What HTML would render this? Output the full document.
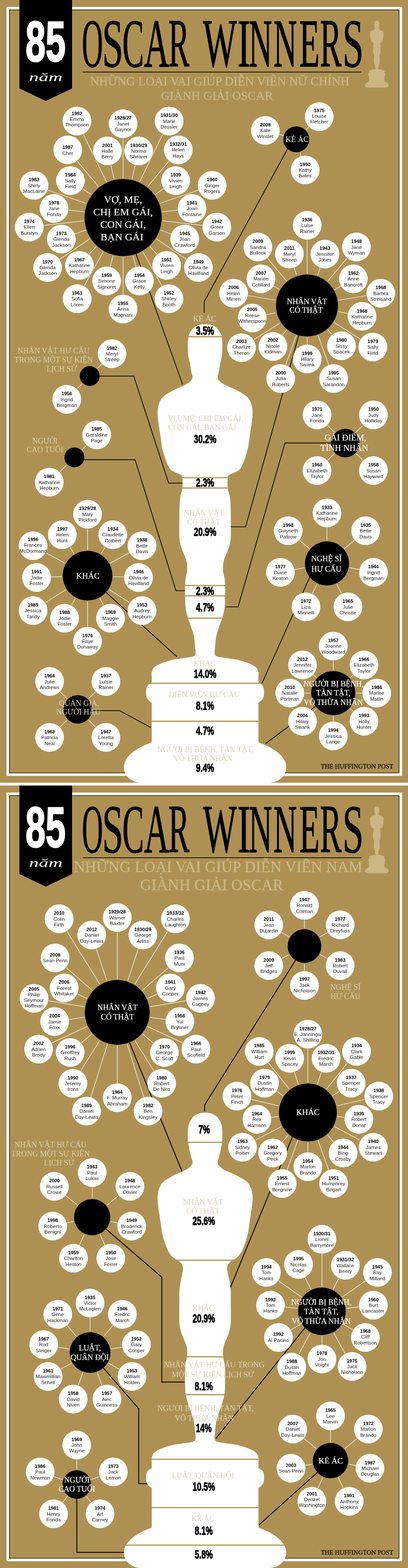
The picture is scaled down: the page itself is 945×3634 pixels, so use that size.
<!DOCTYPE html>
<html lang="vi"><head><meta charset="utf-8"><title>85 năm Oscar Winners</title>
<style>
html,body{margin:0;padding:0;background:#AE9152;}
body{width:945px;height:3634px;overflow:hidden;font-family:"Liberation Sans",sans-serif;}
svg{display:block;position:absolute;left:0;top:0;}
.nm{font-family:"Liberation Sans",sans-serif;font-size:11.6px;fill:#1a1a1a;text-anchor:middle;}
.yr{font-family:"Liberation Sans",sans-serif;font-size:11px;font-weight:bold;fill:#000;text-anchor:middle;}
.hl{font-family:"Liberation Serif",serif;fill:#fff;text-anchor:middle;stroke-width:0.2px;}
.tl{font-family:"Liberation Serif",serif;fill:#DDD3BA;text-anchor:middle;}
.pc{font-family:"Liberation Sans",sans-serif;font-weight:bold;fill:#000;text-anchor:middle;stroke:#000;stroke-linejoin:round;}
.sp{stroke:#fff;stroke-width:1.2;fill:none;}
.cn{stroke:#000;fill:none;stroke-linejoin:miter;}
.ft{font-family:"Liberation Serif",serif;font-size:14.5px;fill:#111;stroke:#111;stroke-width:0.35px;}
</style></head><body>
<svg width="945" height="3634" viewBox="0 0 945 3634">
<defs><path id="statue" d="M475.0,751.3 474.2,751.3 473.2,751.4 471.9,751.4 470.6,751.5 469.1,751.6 467.7,751.7 466.3,751.8 465.0,752.0 463.8,752.2 462.6,752.5 461.4,752.8 460.3,753.2 459.1,753.6 458.1,754.0 457.0,754.4 456.0,754.8 455.1,755.3 454.2,755.7 453.3,756.2 452.5,756.8 451.7,757.3 450.9,757.9 450.2,758.4 449.5,759.0 448.8,759.5 448.2,760.0 447.7,760.5 447.2,761.0 446.6,761.5 446.1,762.1 445.5,762.9 444.8,763.8 444.0,764.9 443.1,766.1 442.2,767.5 441.3,768.9 440.3,770.4 439.4,771.9 438.7,773.5 438.0,775.0 437.5,776.5 437.0,778.1 436.7,779.8 436.4,781.5 436.2,783.1 436.0,784.8 435.8,786.4 435.6,788.0 435.4,789.5 435.3,790.9 435.2,792.2 435.2,793.6 435.1,795.0 435.1,796.5 435.1,798.1 435.1,800.0 435.1,802.1 435.1,804.5 435.2,807.1 435.2,809.7 435.3,812.4 435.4,814.9 435.5,817.3 435.6,819.5 435.8,821.4 436.0,823.2 436.2,824.8 436.4,826.3 436.7,827.8 437.0,829.2 437.2,830.6 437.5,832.0 437.8,833.3 438.0,834.4 438.3,835.4 438.5,836.4 438.8,837.5 439.1,838.7 439.4,840.2 439.8,842.0 440.2,844.3 440.7,847.1 441.2,850.1 441.8,853.3 442.3,856.5 442.8,859.5 443.3,862.1 443.7,864.3 444.1,866.0 444.5,867.3 444.8,868.3 445.2,869.1 445.5,869.8 445.7,870.5 445.9,871.2 446.0,872.0 446.0,872.9 446.0,873.8 446.0,874.6 445.9,875.5 445.7,876.3 445.4,877.2 445.0,878.1 444.5,879.0 443.9,880.0 443.2,880.9 442.4,881.9 441.6,882.9 440.6,884.0 439.5,885.0 438.3,886.0 437.0,887.0 435.6,888.0 434.1,889.0 432.4,889.9 430.7,890.9 428.9,891.9 426.9,892.9 424.8,893.9 422.6,895.0 420.2,896.1 417.6,897.2 414.9,898.3 412.1,899.5 409.2,900.7 406.3,902.0 403.3,903.4 400.4,905.0 397.4,906.7 394.2,908.5 390.9,910.4 387.5,912.4 384.3,914.5 381.3,916.6 378.6,918.8 376.3,921.0 374.4,923.2 372.8,925.6 371.4,928.0 370.3,930.4 369.3,932.8 368.5,935.3 367.7,937.7 367.0,940.0 366.4,942.2 365.9,944.4 365.5,946.5 365.3,948.6 365.1,950.7 365.0,952.9 365.0,955.2 365.0,957.6 365.0,960.1 365.2,962.7 365.3,965.3 365.6,968.0 365.9,970.8 366.2,973.8 366.6,976.8 367.0,980.0 367.4,983.4 367.9,987.0 368.5,990.7 369.1,994.5 369.7,998.4 370.3,1002.3 370.9,1006.2 371.5,1010.0 372.0,1013.8 372.5,1017.6 373.0,1021.4 373.5,1025.2 374.1,1029.0 374.6,1032.8 375.3,1036.4 376.0,1040.0 376.8,1043.5 377.8,1047.0 378.8,1050.5 379.9,1053.9 381.0,1057.2 382.0,1060.4 383.0,1063.3 384.0,1066.0 384.9,1068.4 385.7,1070.7 386.5,1072.7 387.3,1074.6 388.1,1076.3 388.9,1077.9 389.7,1079.5 390.5,1081.0 391.3,1082.4 392.0,1083.7 392.7,1084.9 393.3,1086.0 394.1,1087.1 394.9,1088.1 395.9,1089.0 397.0,1090.0 398.3,1091.0 399.9,1091.9 401.6,1092.8 403.4,1093.6 405.2,1094.4 406.9,1095.1 408.6,1095.8 410.0,1096.5 411.3,1097.1 412.4,1097.5 413.5,1097.9 414.5,1098.2 415.5,1098.6 416.4,1099.0 417.2,1099.4 418.0,1100.0 418.8,1100.6 419.5,1101.1 420.2,1101.5 420.8,1102.1 421.4,1102.8 421.9,1103.8 422.3,1105.1 422.6,1106.8 422.9,1109.0 423.0,1111.7 423.1,1114.8 423.2,1118.1 423.1,1121.5 423.0,1124.9 422.9,1128.1 422.6,1131.0 422.2,1133.6 421.7,1136.1 421.1,1138.5 420.4,1140.8 419.7,1143.0 419.1,1145.3 418.5,1147.6 418.0,1150.0 417.6,1152.4 417.3,1154.7 417.0,1156.9 416.8,1159.2 416.5,1161.7 416.3,1164.2 416.2,1167.0 416.0,1170.0 415.9,1173.3 415.7,1176.7 415.6,1180.4 415.6,1184.2 415.5,1188.2 415.5,1192.3 415.4,1196.6 415.4,1201.0 415.4,1205.8 415.3,1211.1 415.3,1216.7 415.2,1222.3 415.2,1227.9 415.2,1233.1 415.3,1237.9 415.4,1242.0 415.5,1245.4 415.7,1248.2 415.9,1250.5 416.1,1252.6 416.3,1254.4 416.6,1256.2 417.0,1258.0 417.4,1260.0 417.9,1262.0 418.4,1264.0 418.9,1265.8 419.5,1267.6 420.2,1269.5 420.9,1271.5 421.7,1273.6 422.6,1276.0 423.6,1278.6 424.8,1281.5 426.1,1284.6 427.5,1287.7 428.8,1290.9 430.0,1294.1 431.1,1297.1 431.9,1300.0 432.5,1302.7 433.0,1305.4 433.3,1307.9 433.5,1310.4 433.6,1312.9 433.6,1315.4 433.6,1317.9 433.5,1320.4 433.3,1323.0 432.9,1325.6 432.5,1328.2 431.9,1330.8 431.4,1333.3 430.8,1335.8 430.4,1338.3 430.0,1340.6 429.7,1342.8 429.5,1344.7 429.3,1346.6 429.1,1348.4 429.0,1350.2 428.9,1352.2 428.8,1354.3 428.7,1356.7 428.6,1359.3 428.6,1362.1 428.5,1365.0 428.5,1368.0 428.5,1371.2 428.6,1374.4 428.6,1377.7 428.7,1381.0 428.8,1384.4 428.8,1388.1 428.9,1391.8 429.0,1395.6 429.1,1399.4 429.3,1403.1 429.6,1406.7 430.0,1410.0 430.5,1413.1 431.0,1416.1 431.7,1419.0 432.4,1421.8 433.1,1424.5 433.9,1427.1 434.7,1429.8 435.5,1432.5 436.3,1435.2 437.2,1437.8 438.1,1440.3 439.1,1442.8 440.0,1445.4 441.0,1448.0 441.9,1450.6 442.8,1453.4 443.7,1456.3 444.6,1459.2 445.6,1462.2 446.5,1465.3 447.4,1468.4 448.2,1471.5 449.0,1474.6 449.6,1477.6 450.1,1480.7 450.5,1483.9 450.9,1487.2 451.2,1490.4 451.4,1493.6 451.6,1496.6 451.8,1499.3 452.0,1501.8 452.2,1503.9 452.4,1505.8 452.7,1507.5 452.9,1509.0 453.0,1510.3 453.0,1511.6 453.0,1512.8 452.8,1514.0 452.6,1515.1 452.3,1516.2 452.0,1517.2 451.6,1518.0 451.0,1518.9 450.3,1519.6 449.3,1520.3 448.0,1521.0 446.5,1521.6 444.7,1522.1 442.7,1522.5 440.6,1522.9 438.2,1523.3 435.7,1523.6 432.9,1524.0 430.0,1524.5 426.8,1525.0 423.3,1525.4 419.5,1525.9 415.6,1526.4 411.6,1526.9 407.6,1527.5 403.7,1528.2 400.0,1529.0 396.3,1529.9 392.6,1530.9 388.8,1532.0 385.1,1533.2 381.5,1534.4 378.0,1535.6 374.9,1536.8 372.0,1538.0 369.4,1539.1 367.1,1540.2 365.0,1541.3 363.1,1542.4 361.4,1543.5 359.8,1544.6 358.3,1545.8 357.0,1547.0 355.8,1548.3 354.8,1549.6 354.0,1550.9 353.3,1552.3 352.7,1553.7 352.2,1555.1 351.8,1556.6 351.4,1558.0 351.1,1559.4 351.0,1560.9 351.0,1562.4 351.0,1563.9 351.2,1565.4 351.3,1566.9 351.4,1568.4 351.4,1570.0 351.4,1571.7 351.4,1573.5 351.4,1575.4 351.4,1577.2 351.4,1579.0 351.4,1580.6 351.4,1582.0 351.4,1583.0 351.4,1583.0 350.8,1583.3 350.0,1583.6 349.0,1584.1 348.0,1584.6 346.9,1585.1 345.8,1585.7 344.8,1586.3 344.0,1587.0 343.3,1587.7 342.6,1588.4 341.9,1589.2 341.4,1590.1 340.8,1591.0 340.3,1591.9 339.9,1592.9 339.5,1594.0 339.2,1595.2 339.0,1596.5 338.8,1597.9 338.7,1599.3 338.6,1600.8 338.5,1602.2 338.5,1603.6 338.5,1605.0 338.5,1606.3 338.5,1607.6 338.6,1608.9 338.7,1610.2 338.8,1611.4 339.0,1612.7 339.2,1613.9 339.5,1615.0 339.9,1616.1 340.3,1617.2 340.8,1618.3 341.4,1619.3 341.9,1620.3 342.6,1621.2 343.3,1622.1 344.0,1623.0 344.8,1623.8 345.8,1624.7 346.9,1625.5 348.0,1626.2 349.0,1627.0 350.0,1627.6 350.8,1628.1 351.4,1628.5 351.4,1628.5 351.4,1720.5 351.4,1720.5 348.4,1721.6 345.5,1722.7 342.6,1723.8 339.8,1725.0 337.0,1726.2 334.3,1727.4 331.7,1728.6 329.1,1729.9 326.6,1731.1 324.2,1732.4 321.8,1733.7 319.6,1735.1 317.3,1736.4 315.2,1737.8 313.1,1739.2 311.1,1740.6 309.2,1742.0 307.3,1743.5 305.6,1744.9 303.9,1746.4 302.2,1747.9 300.7,1749.4 299.2,1750.9 297.8,1752.5 296.5,1754.0 295.3,1755.5 294.2,1757.1 293.1,1758.7 292.2,1760.3 291.3,1761.8 290.5,1763.4 289.7,1765.0 289.1,1766.6 288.5,1768.3 288.1,1769.9 287.7,1771.5 287.4,1773.1 287.2,1774.7 287.0,1776.4 287.0,1778.0 287.0,1778.0 287.0,1779.4 287.1,1780.8 287.3,1782.2 287.5,1783.6 287.8,1785.0 288.1,1786.4 288.5,1787.8 289.0,1789.1 289.5,1790.5 290.0,1791.8 290.7,1793.1 291.4,1794.3 292.1,1795.6 292.9,1796.8 293.7,1798.0 294.6,1799.2 295.6,1800.3 296.6,1801.4 297.6,1802.4 298.7,1803.5 299.8,1804.4 301.0,1805.4 302.2,1806.3 303.5,1807.1 304.8,1807.9 306.1,1808.7 307.5,1809.4 308.8,1810.1 310.3,1810.7 311.7,1811.3 313.2,1811.8 314.6,1812.2 316.1,1812.6 317.7,1813.0 319.2,1813.3 320.7,1813.6 322.3,1813.8 323.9,1813.9 325.4,1814.0 327.0,1814.0 475.0,1814.0 475.0,1814.0 623.0,1814.0 624.6,1814.0 626.1,1813.9 627.7,1813.8 629.3,1813.6 630.8,1813.3 632.3,1813.0 633.9,1812.6 635.4,1812.2 636.8,1811.8 638.3,1811.3 639.7,1810.7 641.2,1810.1 642.5,1809.4 643.9,1808.7 645.2,1807.9 646.5,1807.1 647.8,1806.3 649.0,1805.4 650.2,1804.4 651.3,1803.5 652.4,1802.4 653.4,1801.4 654.4,1800.3 655.4,1799.2 656.3,1798.0 657.1,1796.8 657.9,1795.6 658.6,1794.3 659.3,1793.1 660.0,1791.8 660.5,1790.5 661.0,1789.1 661.5,1787.8 661.9,1786.4 662.2,1785.0 662.5,1783.6 662.7,1782.2 662.9,1780.8 663.0,1779.4 663.0,1778.0 663.0,1778.0 663.0,1776.4 662.8,1774.7 662.6,1773.1 662.3,1771.5 661.9,1769.9 661.5,1768.3 660.9,1766.6 660.3,1765.0 659.5,1763.4 658.7,1761.8 657.8,1760.3 656.9,1758.7 655.8,1757.1 654.7,1755.5 653.5,1754.0 652.2,1752.5 650.8,1750.9 649.3,1749.4 647.8,1747.9 646.1,1746.4 644.4,1744.9 642.7,1743.5 640.8,1742.0 638.9,1740.6 636.9,1739.2 634.8,1737.8 632.7,1736.4 630.4,1735.1 628.2,1733.7 625.8,1732.4 623.4,1731.1 620.9,1729.9 618.3,1728.6 615.7,1727.4 613.0,1726.2 610.2,1725.0 607.4,1723.8 604.5,1722.7 601.6,1721.6 598.6,1720.5 598.6,1720.5 598.6,1628.5 598.6,1628.5 599.2,1628.1 600.0,1627.6 601.0,1627.0 602.0,1626.2 603.1,1625.5 604.2,1624.7 605.2,1623.8 606.0,1623.0 606.7,1622.1 607.4,1621.2 608.1,1620.3 608.6,1619.3 609.2,1618.3 609.7,1617.2 610.1,1616.1 610.5,1615.0 610.8,1613.9 611.0,1612.7 611.2,1611.4 611.3,1610.2 611.4,1608.9 611.5,1607.6 611.5,1606.3 611.5,1605.0 611.5,1603.6 611.5,1602.2 611.4,1600.8 611.3,1599.3 611.2,1597.9 611.0,1596.5 610.8,1595.2 610.5,1594.0 610.1,1592.9 609.7,1591.9 609.2,1591.0 608.6,1590.1 608.1,1589.2 607.4,1588.4 606.7,1587.7 606.0,1587.0 605.2,1586.3 604.2,1585.7 603.1,1585.1 602.0,1584.6 601.0,1584.1 600.0,1583.6 599.2,1583.3 598.6,1583.0 598.6,1583.0 598.6,1582.0 598.6,1580.6 598.6,1579.0 598.6,1577.2 598.6,1575.4 598.6,1573.5 598.6,1571.7 598.6,1570.0 598.6,1568.4 598.7,1566.9 598.8,1565.4 599.0,1563.9 599.0,1562.4 599.0,1560.9 598.9,1559.4 598.6,1558.0 598.2,1556.6 597.8,1555.1 597.3,1553.7 596.7,1552.3 596.0,1550.9 595.2,1549.6 594.2,1548.3 593.0,1547.0 591.7,1545.8 590.2,1544.6 588.6,1543.5 586.9,1542.4 585.0,1541.3 582.9,1540.2 580.6,1539.1 578.0,1538.0 575.1,1536.8 572.0,1535.6 568.5,1534.4 564.9,1533.2 561.2,1532.0 557.4,1530.9 553.7,1529.9 550.0,1529.0 546.3,1528.2 542.4,1527.5 538.4,1526.9 534.4,1526.4 530.5,1525.9 526.7,1525.4 523.2,1525.0 520.0,1524.5 517.1,1524.0 514.3,1523.6 511.8,1523.3 509.4,1522.9 507.3,1522.5 505.3,1522.1 503.5,1521.6 502.0,1521.0 500.7,1520.3 499.7,1519.6 499.0,1518.9 498.4,1518.0 498.0,1517.2 497.7,1516.2 497.4,1515.1 497.2,1514.0 497.0,1512.8 497.0,1511.6 497.0,1510.3 497.1,1509.0 497.3,1507.5 497.6,1505.8 497.8,1503.9 498.0,1501.8 498.2,1499.3 498.4,1496.6 498.6,1493.6 498.8,1490.4 499.1,1487.2 499.5,1483.9 499.9,1480.7 500.4,1477.6 501.0,1474.6 501.8,1471.5 502.6,1468.4 503.5,1465.3 504.4,1462.2 505.4,1459.2 506.3,1456.3 507.2,1453.4 508.1,1450.6 509.0,1448.0 510.0,1445.4 510.9,1442.8 511.9,1440.3 512.8,1437.8 513.7,1435.2 514.5,1432.5 515.3,1429.8 516.1,1427.1 516.9,1424.5 517.6,1421.8 518.3,1419.0 519.0,1416.1 519.5,1413.1 520.0,1410.0 520.4,1406.7 520.7,1403.1 520.9,1399.4 521.0,1395.6 521.1,1391.8 521.2,1388.1 521.2,1384.4 521.3,1381.0 521.4,1377.7 521.4,1374.4 521.5,1371.2 521.5,1368.0 521.5,1365.0 521.4,1362.1 521.4,1359.3 521.3,1356.7 521.2,1354.3 521.1,1352.2 521.0,1350.2 520.9,1348.4 520.7,1346.6 520.5,1344.7 520.3,1342.8 520.0,1340.6 519.6,1338.3 519.2,1335.8 518.6,1333.3 518.1,1330.8 517.5,1328.2 517.1,1325.6 516.7,1323.0 516.5,1320.4 516.4,1317.9 516.4,1315.4 516.4,1312.9 516.5,1310.4 516.7,1307.9 517.0,1305.4 517.5,1302.7 518.1,1300.0 518.9,1297.1 520.0,1294.1 521.2,1290.9 522.5,1287.7 523.9,1284.6 525.2,1281.5 526.4,1278.6 527.4,1276.0 528.3,1273.6 529.1,1271.5 529.8,1269.5 530.5,1267.6 531.1,1265.8 531.6,1264.0 532.1,1262.0 532.6,1260.0 533.0,1258.0 533.4,1256.2 533.7,1254.4 533.9,1252.6 534.1,1250.5 534.3,1248.2 534.5,1245.4 534.6,1242.0 534.7,1237.9 534.8,1233.1 534.8,1227.9 534.8,1222.3 534.7,1216.7 534.7,1211.1 534.6,1205.8 534.6,1201.0 534.6,1196.6 534.5,1192.3 534.5,1188.2 534.4,1184.2 534.4,1180.4 534.3,1176.7 534.1,1173.3 534.0,1170.0 533.8,1167.0 533.7,1164.2 533.5,1161.7 533.2,1159.2 533.0,1156.9 532.7,1154.7 532.4,1152.4 532.0,1150.0 531.5,1147.6 530.9,1145.3 530.3,1143.0 529.6,1140.8 528.9,1138.5 528.3,1136.1 527.8,1133.6 527.4,1131.0 527.1,1128.1 527.0,1124.9 526.9,1121.5 526.8,1118.1 526.9,1114.8 527.0,1111.7 527.1,1109.0 527.4,1106.8 527.7,1105.1 528.1,1103.8 528.6,1102.8 529.2,1102.1 529.8,1101.5 530.5,1101.1 531.2,1100.6 532.0,1100.0 532.8,1099.4 533.6,1099.0 534.5,1098.6 535.5,1098.2 536.5,1097.9 537.6,1097.5 538.7,1097.1 540.0,1096.5 541.4,1095.8 543.1,1095.1 544.8,1094.4 546.6,1093.6 548.4,1092.8 550.1,1091.9 551.7,1091.0 553.0,1090.0 554.1,1089.0 555.1,1088.1 555.9,1087.1 556.7,1086.0 557.3,1084.9 558.0,1083.7 558.7,1082.4 559.5,1081.0 560.3,1079.5 561.1,1077.9 561.9,1076.3 562.7,1074.6 563.5,1072.7 564.3,1070.7 565.1,1068.4 566.0,1066.0 567.0,1063.3 568.0,1060.4 569.0,1057.2 570.1,1053.9 571.2,1050.5 572.2,1047.0 573.2,1043.5 574.0,1040.0 574.7,1036.4 575.4,1032.8 575.9,1029.0 576.5,1025.2 577.0,1021.4 577.5,1017.6 578.0,1013.8 578.5,1010.0 579.1,1006.2 579.7,1002.3 580.3,998.4 580.9,994.5 581.5,990.7 582.1,987.0 582.6,983.4 583.0,980.0 583.4,976.8 583.8,973.8 584.1,970.8 584.4,968.0 584.7,965.3 584.8,962.7 585.0,960.1 585.0,957.6 585.0,955.2 585.0,952.9 584.9,950.7 584.7,948.6 584.5,946.5 584.1,944.4 583.6,942.2 583.0,940.0 582.3,937.7 581.5,935.3 580.7,932.8 579.7,930.4 578.6,928.0 577.2,925.6 575.6,923.2 573.7,921.0 571.4,918.8 568.7,916.6 565.7,914.5 562.5,912.4 559.1,910.4 555.8,908.5 552.6,906.7 549.6,905.0 546.7,903.4 543.7,902.0 540.8,900.7 537.9,899.5 535.1,898.3 532.4,897.2 529.8,896.1 527.4,895.0 525.2,893.9 523.1,892.9 521.1,891.9 519.3,890.9 517.6,889.9 515.9,889.0 514.4,888.0 513.0,887.0 511.7,886.0 510.5,885.0 509.4,884.0 508.4,882.9 507.6,881.9 506.8,880.9 506.1,880.0 505.5,879.0 505.0,878.1 504.6,877.2 504.3,876.3 504.1,875.5 504.0,874.6 504.0,873.8 504.0,872.9 504.0,872.0 504.1,871.2 504.3,870.5 504.5,869.8 504.8,869.1 505.2,868.3 505.5,867.3 505.9,866.0 506.3,864.3 506.7,862.1 507.2,859.5 507.7,856.5 508.2,853.3 508.8,850.1 509.3,847.1 509.8,844.3 510.2,842.0 510.6,840.2 510.9,838.7 511.2,837.5 511.5,836.4 511.7,835.4 512.0,834.4 512.2,833.3 512.5,832.0 512.8,830.6 513.0,829.2 513.3,827.8 513.6,826.3 513.8,824.8 514.0,823.2 514.2,821.4 514.4,819.5 514.5,817.3 514.6,814.9 514.7,812.4 514.8,809.7 514.8,807.1 514.9,804.5 514.9,802.1 514.9,800.0 514.9,798.1 514.9,796.5 514.9,795.0 514.8,793.6 514.8,792.2 514.7,790.9 514.6,789.5 514.4,788.0 514.2,786.4 514.0,784.8 513.8,783.1 513.6,781.5 513.3,779.8 513.0,778.1 512.5,776.5 512.0,775.0 511.3,773.5 510.6,771.9 509.7,770.4 508.7,768.9 507.8,767.5 506.9,766.1 506.0,764.9 505.2,763.8 504.5,762.9 503.9,762.1 503.4,761.5 502.8,761.0 502.3,760.5 501.8,760.0 501.2,759.5 500.5,759.0 499.8,758.4 499.1,757.9 498.3,757.3 497.5,756.8 496.7,756.2 495.8,755.7 494.9,755.3 494.0,754.8 493.0,754.4 491.9,754.0 490.9,753.6 489.7,753.2 488.6,752.8 487.4,752.5 486.2,752.2 485.0,752.0 483.7,751.8 482.3,751.7 480.9,751.6 479.4,751.5 478.1,751.4 476.8,751.4 475.8,751.3 475.0,751.3Z"/><path id="statue2" d="M475.0,758.7 474.2,758.7 473.2,758.8 471.9,758.8 470.6,758.9 469.1,759.0 467.7,759.1 466.3,759.3 465.0,759.5 463.8,759.8 462.6,760.1 461.4,760.4 460.3,760.8 459.1,761.2 458.1,761.6 457.0,762.1 456.0,762.5 455.1,762.9 454.2,763.4 453.3,763.9 452.5,764.4 451.7,764.9 450.9,765.4 450.2,766.0 449.5,766.5 448.8,767.0 448.2,767.5 447.7,767.9 447.2,768.4 446.6,769.0 446.1,769.6 445.5,770.4 444.8,771.4 444.0,772.6 443.2,773.9 442.3,775.4 441.3,777.0 440.4,778.7 439.5,780.4 438.8,782.1 438.1,783.7 437.6,785.3 437.1,786.8 436.7,788.3 436.4,789.8 436.1,791.4 435.8,793.2 435.6,795.1 435.4,797.2 435.2,799.7 435.1,802.5 435.1,805.6 435.0,808.7 435.0,811.8 435.0,814.7 435.1,817.3 435.1,819.5 435.1,821.1 435.2,822.3 435.2,823.2 435.3,823.9 435.4,824.6 435.5,825.3 435.6,826.2 435.8,827.4 436.0,828.9 436.3,830.7 436.5,832.5 436.8,834.5 437.1,836.5 437.5,838.4 437.8,840.3 438.1,842.0 438.4,843.6 438.7,845.0 439.0,846.4 439.4,847.8 439.7,849.1 440.0,850.4 440.4,851.7 440.7,853.1 441.1,854.5 441.4,856.0 441.8,857.4 442.2,858.9 442.6,860.4 443.0,861.7 443.4,863.1 443.7,864.3 444.0,865.4 444.4,866.5 444.8,867.5 445.1,868.4 445.4,869.3 445.7,870.2 445.9,871.1 446.0,872.0 446.0,872.9 446.0,873.8 446.0,874.6 445.9,875.5 445.7,876.3 445.4,877.2 445.0,878.1 444.5,879.0 443.9,880.0 443.2,880.9 442.4,881.9 441.6,882.9 440.6,884.0 439.5,885.0 438.3,886.0 437.0,887.0 435.6,888.0 434.1,889.0 432.4,889.9 430.7,890.9 428.9,891.9 426.9,892.9 424.8,893.9 422.6,895.0 420.2,896.1 417.6,897.2 414.9,898.3 412.1,899.5 409.2,900.7 406.3,902.0 403.3,903.4 400.4,905.0 397.4,906.7 394.2,908.5 390.9,910.4 387.5,912.4 384.3,914.5 381.3,916.6 378.6,918.8 376.3,921.0 374.4,923.2 372.8,925.6 371.4,928.0 370.3,930.4 369.3,932.8 368.5,935.3 367.7,937.7 367.0,940.0 366.4,942.2 365.9,944.4 365.5,946.5 365.3,948.6 365.1,950.7 365.0,952.9 365.0,955.2 365.0,957.6 365.0,960.1 365.2,962.7 365.3,965.3 365.6,968.0 365.9,970.8 366.2,973.8 366.6,976.8 367.0,980.0 367.4,983.4 367.9,987.0 368.5,990.7 369.1,994.5 369.7,998.4 370.3,1002.3 370.9,1006.2 371.5,1010.0 372.0,1013.8 372.5,1017.6 373.0,1021.4 373.5,1025.2 374.1,1029.0 374.6,1032.8 375.3,1036.4 376.0,1040.0 376.8,1043.5 377.8,1047.0 378.8,1050.5 379.9,1053.9 381.0,1057.2 382.0,1060.4 383.0,1063.3 384.0,1066.0 384.9,1068.4 385.7,1070.6 386.5,1072.6 387.3,1074.5 388.1,1076.2 388.8,1077.8 389.6,1079.4 390.5,1081.0 391.4,1082.6 392.3,1084.0 393.2,1085.4 394.1,1086.8 395.1,1088.0 396.0,1089.2 397.0,1090.4 398.0,1091.5 399.0,1092.5 400.1,1093.5 401.3,1094.5 402.4,1095.4 403.5,1096.2 404.6,1096.9 405.6,1097.6 406.5,1098.2 407.3,1098.7 408.1,1099.1 408.7,1099.4 409.4,1099.7 410.0,1099.9 410.6,1100.1 411.1,1100.4 411.7,1100.7 412.3,1101.1 412.8,1101.4 413.2,1101.7 413.7,1102.1 414.2,1102.5 414.7,1102.9 415.2,1103.4 415.8,1104.0 416.5,1104.7 417.3,1105.4 418.1,1106.1 418.9,1107.0 419.8,1107.9 420.5,1108.8 421.2,1109.8 421.8,1110.8 422.3,1111.9 422.7,1113.0 423.0,1114.3 423.3,1115.5 423.5,1116.8 423.7,1118.2 423.8,1119.5 423.8,1120.9 423.7,1122.3 423.6,1123.7 423.4,1125.1 423.1,1126.6 422.8,1128.1 422.5,1129.7 422.1,1131.3 421.8,1133.0 421.5,1134.8 421.1,1136.6 420.7,1138.5 420.2,1140.5 419.8,1142.5 419.4,1144.6 419.0,1146.8 418.6,1149.0 418.2,1151.2 417.8,1153.4 417.4,1155.7 417.0,1158.0 416.7,1160.4 416.3,1163.1 416.0,1165.9 415.8,1169.0 415.6,1172.4 415.5,1175.9 415.5,1179.7 415.4,1183.7 415.4,1187.8 415.4,1192.1 415.4,1196.5 415.4,1201.0 415.4,1205.9 415.3,1211.2 415.3,1216.7 415.3,1222.4 415.2,1227.9 415.2,1233.2 415.3,1237.9 415.4,1242.0 415.5,1245.4 415.7,1248.2 415.9,1250.5 416.1,1252.6 416.3,1254.4 416.6,1256.2 417.0,1258.0 417.4,1260.0 417.9,1262.0 418.4,1264.0 418.9,1265.8 419.5,1267.6 420.2,1269.5 420.9,1271.5 421.7,1273.6 422.6,1276.0 423.6,1278.6 424.8,1281.5 426.1,1284.6 427.5,1287.7 428.8,1290.9 430.0,1294.1 431.1,1297.1 431.9,1300.0 432.5,1302.7 433.0,1305.4 433.3,1307.9 433.5,1310.4 433.6,1312.9 433.6,1315.4 433.6,1317.9 433.5,1320.4 433.3,1323.0 432.9,1325.6 432.5,1328.2 431.9,1330.8 431.4,1333.3 430.8,1335.8 430.4,1338.3 430.0,1340.6 429.7,1342.8 429.5,1344.7 429.3,1346.6 429.1,1348.4 429.0,1350.2 428.9,1352.2 428.8,1354.3 428.7,1356.7 428.6,1359.3 428.6,1362.1 428.5,1365.0 428.5,1368.0 428.5,1371.2 428.6,1374.4 428.6,1377.7 428.7,1381.0 428.8,1384.4 428.8,1388.1 428.9,1391.8 429.0,1395.6 429.1,1399.4 429.3,1403.1 429.6,1406.7 430.0,1410.0 430.5,1413.1 431.0,1416.1 431.7,1419.0 432.4,1421.8 433.1,1424.5 433.9,1427.1 434.7,1429.8 435.5,1432.5 436.3,1435.2 437.2,1437.8 438.1,1440.3 439.1,1442.8 440.0,1445.4 441.0,1448.0 441.9,1450.6 442.8,1453.4 443.7,1456.3 444.6,1459.2 445.6,1462.2 446.5,1465.3 447.4,1468.4 448.2,1471.5 449.0,1474.6 449.6,1477.6 450.1,1480.7 450.5,1483.9 450.9,1487.2 451.2,1490.4 451.4,1493.6 451.6,1496.6 451.8,1499.3 452.0,1501.8 452.2,1503.9 452.4,1505.8 452.7,1507.5 452.9,1509.0 453.0,1510.3 453.0,1511.6 453.0,1512.8 452.8,1514.0 452.6,1515.1 452.3,1516.2 452.0,1517.2 451.6,1518.0 451.0,1518.9 450.3,1519.6 449.3,1520.3 448.0,1521.0 446.5,1521.6 444.7,1522.1 442.7,1522.5 440.6,1522.9 438.2,1523.3 435.7,1523.6 432.9,1524.0 430.0,1524.5 426.8,1525.0 423.3,1525.4 419.5,1525.9 415.6,1526.4 411.6,1526.9 407.6,1527.5 403.7,1528.2 400.0,1529.0 396.3,1529.9 392.6,1530.9 388.8,1532.0 385.1,1533.2 381.5,1534.4 378.0,1535.6 374.9,1536.8 372.0,1538.0 369.4,1539.1 367.1,1540.2 365.0,1541.3 363.1,1542.4 361.4,1543.5 359.8,1544.6 358.3,1545.8 357.0,1547.0 355.8,1548.3 354.8,1549.6 354.0,1550.9 353.3,1552.3 352.7,1553.7 352.2,1555.1 351.8,1556.6 351.4,1558.0 351.1,1559.4 351.0,1560.9 351.0,1562.4 351.0,1563.9 351.2,1565.4 351.3,1566.9 351.4,1568.4 351.4,1570.0 351.4,1571.7 351.4,1573.5 351.4,1575.4 351.4,1577.2 351.4,1579.0 351.4,1580.6 351.4,1582.0 351.4,1583.0 351.4,1583.0 350.8,1583.3 350.0,1583.6 349.0,1584.1 348.0,1584.6 346.9,1585.1 345.8,1585.7 344.8,1586.3 344.0,1587.0 343.3,1587.7 342.6,1588.4 341.9,1589.2 341.4,1590.1 340.8,1591.0 340.3,1591.9 339.9,1592.9 339.5,1594.0 339.2,1595.2 339.0,1596.5 338.8,1597.9 338.7,1599.3 338.6,1600.8 338.5,1602.2 338.5,1603.6 338.5,1605.0 338.5,1606.3 338.5,1607.6 338.6,1608.9 338.7,1610.2 338.8,1611.4 339.0,1612.7 339.2,1613.9 339.5,1615.0 339.9,1616.1 340.3,1617.2 340.8,1618.3 341.4,1619.3 341.9,1620.3 342.6,1621.2 343.3,1622.1 344.0,1623.0 344.8,1623.8 345.8,1624.7 346.9,1625.5 348.0,1626.2 349.0,1627.0 350.0,1627.6 350.8,1628.1 351.4,1628.5 351.4,1628.5 351.4,1720.5 351.4,1720.5 348.4,1721.6 345.5,1722.7 342.6,1723.8 339.8,1725.0 337.0,1726.2 334.3,1727.4 331.7,1728.6 329.1,1729.9 326.6,1731.1 324.2,1732.4 321.8,1733.7 319.6,1735.1 317.3,1736.4 315.2,1737.8 313.1,1739.2 311.1,1740.6 309.2,1742.0 307.3,1743.5 305.6,1744.9 303.9,1746.4 302.2,1747.9 300.7,1749.4 299.2,1750.9 297.8,1752.5 296.5,1754.0 295.3,1755.5 294.2,1757.1 293.1,1758.7 292.2,1760.3 291.3,1761.8 290.5,1763.4 289.7,1765.0 289.1,1766.6 288.5,1768.3 288.1,1769.9 287.7,1771.5 287.4,1773.1 287.2,1774.7 287.0,1776.4 287.0,1778.0 287.0,1778.0 287.0,1779.4 287.1,1780.8 287.3,1782.2 287.5,1783.6 287.8,1785.0 288.1,1786.4 288.5,1787.8 289.0,1789.1 289.5,1790.5 290.0,1791.8 290.7,1793.1 291.4,1794.3 292.1,1795.6 292.9,1796.8 293.7,1798.0 294.6,1799.2 295.6,1800.3 296.6,1801.4 297.6,1802.4 298.7,1803.5 299.8,1804.4 301.0,1805.4 302.2,1806.3 303.5,1807.1 304.8,1807.9 306.1,1808.7 307.5,1809.4 308.8,1810.1 310.3,1810.7 311.7,1811.3 313.2,1811.8 314.6,1812.2 316.1,1812.6 317.7,1813.0 319.2,1813.3 320.7,1813.6 322.3,1813.8 323.9,1813.9 325.4,1814.0 327.0,1814.0 475.0,1814.0 475.0,1814.0 623.0,1814.0 624.6,1814.0 626.1,1813.9 627.7,1813.8 629.3,1813.6 630.8,1813.3 632.3,1813.0 633.9,1812.6 635.4,1812.2 636.8,1811.8 638.3,1811.3 639.7,1810.7 641.2,1810.1 642.5,1809.4 643.9,1808.7 645.2,1807.9 646.5,1807.1 647.8,1806.3 649.0,1805.4 650.2,1804.4 651.3,1803.5 652.4,1802.4 653.4,1801.4 654.4,1800.3 655.4,1799.2 656.3,1798.0 657.1,1796.8 657.9,1795.6 658.6,1794.3 659.3,1793.1 660.0,1791.8 660.5,1790.5 661.0,1789.1 661.5,1787.8 661.9,1786.4 662.2,1785.0 662.5,1783.6 662.7,1782.2 662.9,1780.8 663.0,1779.4 663.0,1778.0 663.0,1778.0 663.0,1776.4 662.8,1774.7 662.6,1773.1 662.3,1771.5 661.9,1769.9 661.5,1768.3 660.9,1766.6 660.3,1765.0 659.5,1763.4 658.7,1761.8 657.8,1760.3 656.9,1758.7 655.8,1757.1 654.7,1755.5 653.5,1754.0 652.2,1752.5 650.8,1750.9 649.3,1749.4 647.8,1747.9 646.1,1746.4 644.4,1744.9 642.7,1743.5 640.8,1742.0 638.9,1740.6 636.9,1739.2 634.8,1737.8 632.7,1736.4 630.4,1735.1 628.2,1733.7 625.8,1732.4 623.4,1731.1 620.9,1729.9 618.3,1728.6 615.7,1727.4 613.0,1726.2 610.2,1725.0 607.4,1723.8 604.5,1722.7 601.6,1721.6 598.6,1720.5 598.6,1720.5 598.6,1628.5 598.6,1628.5 599.2,1628.1 600.0,1627.6 601.0,1627.0 602.0,1626.2 603.1,1625.5 604.2,1624.7 605.2,1623.8 606.0,1623.0 606.7,1622.1 607.4,1621.2 608.1,1620.3 608.6,1619.3 609.2,1618.3 609.7,1617.2 610.1,1616.1 610.5,1615.0 610.8,1613.9 611.0,1612.7 611.2,1611.4 611.3,1610.2 611.4,1608.9 611.5,1607.6 611.5,1606.3 611.5,1605.0 611.5,1603.6 611.5,1602.2 611.4,1600.8 611.3,1599.3 611.2,1597.9 611.0,1596.5 610.8,1595.2 610.5,1594.0 610.1,1592.9 609.7,1591.9 609.2,1591.0 608.6,1590.1 608.1,1589.2 607.4,1588.4 606.7,1587.7 606.0,1587.0 605.2,1586.3 604.2,1585.7 603.1,1585.1 602.0,1584.6 601.0,1584.1 600.0,1583.6 599.2,1583.3 598.6,1583.0 598.6,1583.0 598.6,1582.0 598.6,1580.6 598.6,1579.0 598.6,1577.2 598.6,1575.4 598.6,1573.5 598.6,1571.7 598.6,1570.0 598.6,1568.4 598.7,1566.9 598.8,1565.4 599.0,1563.9 599.0,1562.4 599.0,1560.9 598.9,1559.4 598.6,1558.0 598.2,1556.6 597.8,1555.1 597.3,1553.7 596.7,1552.3 596.0,1550.9 595.2,1549.6 594.2,1548.3 593.0,1547.0 591.7,1545.8 590.2,1544.6 588.6,1543.5 586.9,1542.4 585.0,1541.3 582.9,1540.2 580.6,1539.1 578.0,1538.0 575.1,1536.8 572.0,1535.6 568.5,1534.4 564.9,1533.2 561.2,1532.0 557.4,1530.9 553.7,1529.9 550.0,1529.0 546.3,1528.2 542.4,1527.5 538.4,1526.9 534.4,1526.4 530.5,1525.9 526.7,1525.4 523.2,1525.0 520.0,1524.5 517.1,1524.0 514.3,1523.6 511.8,1523.3 509.4,1522.9 507.3,1522.5 505.3,1522.1 503.5,1521.6 502.0,1521.0 500.7,1520.3 499.7,1519.6 499.0,1518.9 498.4,1518.0 498.0,1517.2 497.7,1516.2 497.4,1515.1 497.2,1514.0 497.0,1512.8 497.0,1511.6 497.0,1510.3 497.1,1509.0 497.3,1507.5 497.6,1505.8 497.8,1503.9 498.0,1501.8 498.2,1499.3 498.4,1496.6 498.6,1493.6 498.8,1490.4 499.1,1487.2 499.5,1483.9 499.9,1480.7 500.4,1477.6 501.0,1474.6 501.8,1471.5 502.6,1468.4 503.5,1465.3 504.4,1462.2 505.4,1459.2 506.3,1456.3 507.2,1453.4 508.1,1450.6 509.0,1448.0 510.0,1445.4 510.9,1442.8 511.9,1440.3 512.8,1437.8 513.7,1435.2 514.5,1432.5 515.3,1429.8 516.1,1427.1 516.9,1424.5 517.6,1421.8 518.3,1419.0 519.0,1416.1 519.5,1413.1 520.0,1410.0 520.4,1406.7 520.7,1403.1 520.9,1399.4 521.0,1395.6 521.1,1391.8 521.2,1388.1 521.2,1384.4 521.3,1381.0 521.4,1377.7 521.4,1374.4 521.5,1371.2 521.5,1368.0 521.5,1365.0 521.4,1362.1 521.4,1359.3 521.3,1356.7 521.2,1354.3 521.1,1352.2 521.0,1350.2 520.9,1348.4 520.7,1346.6 520.5,1344.7 520.3,1342.8 520.0,1340.6 519.6,1338.3 519.2,1335.8 518.6,1333.3 518.1,1330.8 517.5,1328.2 517.1,1325.6 516.7,1323.0 516.5,1320.4 516.4,1317.9 516.4,1315.4 516.4,1312.9 516.5,1310.4 516.7,1307.9 517.0,1305.4 517.5,1302.7 518.1,1300.0 518.9,1297.1 520.0,1294.1 521.2,1290.9 522.5,1287.7 523.9,1284.6 525.2,1281.5 526.4,1278.6 527.4,1276.0 528.3,1273.6 529.1,1271.5 529.8,1269.5 530.5,1267.6 531.1,1265.8 531.6,1264.0 532.1,1262.0 532.6,1260.0 533.0,1258.0 533.4,1256.2 533.7,1254.4 533.9,1252.6 534.1,1250.5 534.3,1248.2 534.5,1245.4 534.6,1242.0 534.7,1237.9 534.8,1233.2 534.8,1227.9 534.8,1222.4 534.7,1216.7 534.7,1211.2 534.6,1205.9 534.6,1201.0 534.6,1196.5 534.6,1192.1 534.6,1187.8 534.6,1183.7 534.5,1179.7 534.5,1175.9 534.4,1172.4 534.2,1169.0 534.0,1165.9 533.7,1163.1 533.3,1160.4 533.0,1158.0 532.6,1155.7 532.2,1153.4 531.8,1151.2 531.4,1149.0 531.0,1146.8 530.6,1144.6 530.2,1142.5 529.8,1140.5 529.3,1138.5 528.9,1136.6 528.5,1134.8 528.2,1133.0 527.9,1131.3 527.5,1129.7 527.2,1128.1 526.9,1126.6 526.6,1125.1 526.4,1123.7 526.3,1122.3 526.2,1120.9 526.2,1119.5 526.3,1118.2 526.5,1116.8 526.7,1115.5 527.0,1114.3 527.3,1113.0 527.7,1111.9 528.2,1110.8 528.8,1109.8 529.5,1108.8 530.2,1107.9 531.1,1107.0 531.9,1106.1 532.7,1105.4 533.5,1104.7 534.2,1104.0 534.8,1103.4 535.3,1102.9 535.8,1102.5 536.3,1102.1 536.8,1101.7 537.2,1101.4 537.7,1101.1 538.3,1100.7 538.9,1100.4 539.4,1100.1 540.0,1099.9 540.6,1099.7 541.3,1099.4 541.9,1099.1 542.7,1098.7 543.5,1098.2 544.4,1097.6 545.4,1096.9 546.5,1096.2 547.6,1095.4 548.7,1094.5 549.9,1093.5 551.0,1092.5 552.0,1091.5 553.0,1090.4 554.0,1089.2 554.9,1088.0 555.9,1086.8 556.8,1085.4 557.7,1084.0 558.6,1082.6 559.5,1081.0 560.4,1079.4 561.2,1077.8 561.9,1076.2 562.7,1074.5 563.5,1072.6 564.3,1070.6 565.1,1068.4 566.0,1066.0 567.0,1063.3 568.0,1060.4 569.0,1057.2 570.1,1053.9 571.2,1050.5 572.2,1047.0 573.2,1043.5 574.0,1040.0 574.7,1036.4 575.4,1032.8 575.9,1029.0 576.5,1025.2 577.0,1021.4 577.5,1017.6 578.0,1013.8 578.5,1010.0 579.1,1006.2 579.7,1002.3 580.3,998.4 580.9,994.5 581.5,990.7 582.1,987.0 582.6,983.4 583.0,980.0 583.4,976.8 583.8,973.8 584.1,970.8 584.4,968.0 584.7,965.3 584.8,962.7 585.0,960.1 585.0,957.6 585.0,955.2 585.0,952.9 584.9,950.7 584.7,948.6 584.5,946.5 584.1,944.4 583.6,942.2 583.0,940.0 582.3,937.7 581.5,935.3 580.7,932.8 579.7,930.4 578.6,928.0 577.2,925.6 575.6,923.2 573.7,921.0 571.4,918.8 568.7,916.6 565.7,914.5 562.5,912.4 559.1,910.4 555.8,908.5 552.6,906.7 549.6,905.0 546.7,903.4 543.7,902.0 540.8,900.7 537.9,899.5 535.1,898.3 532.4,897.2 529.8,896.1 527.4,895.0 525.2,893.9 523.1,892.9 521.1,891.9 519.3,890.9 517.6,889.9 515.9,889.0 514.4,888.0 513.0,887.0 511.7,886.0 510.5,885.0 509.4,884.0 508.4,882.9 507.6,881.9 506.8,880.9 506.1,880.0 505.5,879.0 505.0,878.1 504.6,877.2 504.3,876.3 504.1,875.5 504.0,874.6 504.0,873.8 504.0,872.9 504.0,872.0 504.1,871.1 504.3,870.2 504.6,869.3 504.9,868.4 505.2,867.5 505.6,866.5 506.0,865.4 506.3,864.3 506.6,863.1 507.0,861.7 507.4,860.4 507.8,858.9 508.2,857.4 508.6,856.0 508.9,854.5 509.3,853.1 509.6,851.7 510.0,850.4 510.3,849.1 510.6,847.8 511.0,846.4 511.3,845.0 511.6,843.6 511.9,842.0 512.2,840.3 512.5,838.4 512.9,836.5 513.2,834.5 513.5,832.5 513.7,830.7 514.0,828.9 514.2,827.4 514.4,826.2 514.5,825.3 514.6,824.6 514.7,823.9 514.8,823.2 514.8,822.3 514.9,821.1 514.9,819.5 514.9,817.3 515.0,814.7 515.0,811.8 515.0,808.7 514.9,805.6 514.9,802.5 514.8,799.7 514.6,797.2 514.4,795.1 514.2,793.2 513.9,791.4 513.6,789.8 513.3,788.3 512.9,786.8 512.4,785.3 511.9,783.7 511.2,782.1 510.5,780.4 509.6,778.7 508.7,777.0 507.7,775.4 506.8,773.9 506.0,772.6 505.2,771.4 504.5,770.4 503.9,769.6 503.4,769.0 502.8,768.4 502.3,767.9 501.8,767.5 501.2,767.0 500.5,766.5 499.8,766.0 499.1,765.4 498.3,764.9 497.5,764.4 496.7,763.9 495.8,763.4 494.9,762.9 494.0,762.5 493.0,762.1 491.9,761.6 490.9,761.2 489.7,760.8 488.6,760.4 487.4,760.1 486.2,759.8 485.0,759.5 483.7,759.3 482.3,759.1 480.9,759.0 479.4,758.9 478.1,758.8 476.8,758.8 475.8,758.7 475.0,758.7Z"/>
<clipPath id="sc1"><use href="#statue"/></clipPath>
<clipPath id="sc2"><use href="#statue2" transform="translate(0,1820)"/></clipPath>
<clipPath id="pc1"><rect x="0" y="0" width="945" height="1814"/></clipPath>
<clipPath id="pc2"><rect x="0" y="1820" width="945" height="1814"/></clipPath>
</defs>
<rect width="945" height="3634" fill="#AE9152"/>
<rect x="0" y="1814" width="945" height="6.5" fill="#fff"/>
<g id="p1">
<rect x="18.2" y="19.2" width="909.9" height="1775.9" fill="none" stroke="#fff" stroke-width="6.4"/>
<rect x="21.9" y="22.9" width="902.5" height="1768.5" fill="none" stroke="#000" stroke-width="1.2"/>
<path d="M45,0.0 H167 V205.0 L106,234.0 L45,205.0 Z" fill="#000"/>
<text x="0" y="0" transform="translate(105.5,142.0) scale(0.635,1)" style="font-family:'Liberation Sans',sans-serif;font-weight:bold;font-size:132px;fill:#fff;stroke:#fff;stroke-width:3;text-anchor:middle;letter-spacing:0px">85</text>
<text x="67" y="188.0" textLength="78" lengthAdjust="spacingAndGlyphs" style="font-family:'Liberation Serif',serif;font-style:italic;font-size:28px;fill:#fff">năm</text>
<text aria-label="OSCAR WINNERS" y="154.0" style="font-family:'Liberation Serif',serif;font-size:158px;fill:#000;stroke:#000;stroke-width:1.3"><tspan x="189.7" textLength="48.8" lengthAdjust="spacingAndGlyphs">O</tspan><tspan x="236.6" textLength="49.0" lengthAdjust="spacingAndGlyphs">S</tspan><tspan x="283.6" textLength="49.9" lengthAdjust="spacingAndGlyphs">C</tspan><tspan x="333.7" textLength="57.9" lengthAdjust="spacingAndGlyphs">A</tspan><tspan x="390.0" textLength="48.6" lengthAdjust="spacingAndGlyphs">R</tspan> <tspan x="470.0" textLength="78.2" lengthAdjust="spacingAndGlyphs">W</tspan><tspan x="549.8" textLength="29.9" lengthAdjust="spacingAndGlyphs">I</tspan><tspan x="575.9" textLength="54.3" lengthAdjust="spacingAndGlyphs">N</tspan><tspan x="633.5" textLength="54.2" lengthAdjust="spacingAndGlyphs">N</tspan><tspan x="693.3" textLength="47.0" lengthAdjust="spacingAndGlyphs">E</tspan><tspan x="740.9" textLength="50.0" lengthAdjust="spacingAndGlyphs">R</tspan><tspan x="793.2" textLength="48.9" lengthAdjust="spacingAndGlyphs">S</tspan></text>
<rect x="192" y="166.2" width="645" height="1.6" fill="#000"/>
<text class="tl" x="209.0" y="198.4" textLength="600.2" lengthAdjust="spacingAndGlyphs" style="font-size:28.4px;fill:#CDB98A;stroke:#CDB98A;stroke-width:0.3px;text-anchor:start">NHỮNG LOẠI VAI GIÚP DIỄN VIÊN NỮ CHÍNH</text>
<text class="tl" x="372.8" y="230.6" textLength="259.2" lengthAdjust="spacingAndGlyphs" style="font-size:28.3px;fill:#CDB98A;stroke:#CDB98A;stroke-width:0.3px;text-anchor:start">GIÀNH GIẢI OSCAR</text>
<use href="#statue" transform="translate(803.7,-60.7) scale(0.1453)" fill="#CBB684"/>
<line class="sp" x1="178.3" y1="280.6" x2="285.1" y2="501.0"/>
<line class="sp" x1="285.0" y1="286.7" x2="285.1" y2="501.0"/>
<line class="sp" x1="391.7" y1="280.6" x2="285.1" y2="501.0"/>
<line class="sp" x1="157.0" y1="347.2" x2="285.1" y2="501.0"/>
<line class="sp" x1="248.8" y1="349.8" x2="285.1" y2="501.0"/>
<line class="sp" x1="321.2" y1="349.8" x2="285.1" y2="501.0"/>
<line class="sp" x1="412.9" y1="347.2" x2="285.1" y2="501.0"/>
<line class="sp" x1="78.7" y1="429.5" x2="285.1" y2="501.0"/>
<line class="sp" x1="163.1" y1="418.6" x2="285.1" y2="501.0"/>
<line class="sp" x1="406.9" y1="418.6" x2="285.1" y2="501.0"/>
<line class="sp" x1="491.3" y1="429.5" x2="285.1" y2="501.0"/>
<line class="sp" x1="125.1" y1="483.1" x2="285.1" y2="501.0"/>
<line class="sp" x1="444.8" y1="483.1" x2="285.1" y2="501.0"/>
<line class="sp" x1="67.7" y1="526.3" x2="285.1" y2="501.0"/>
<line class="sp" x1="502.2" y1="526.3" x2="285.1" y2="501.0"/>
<line class="sp" x1="142.1" y1="554.0" x2="285.1" y2="501.0"/>
<line class="sp" x1="427.8" y1="554.0" x2="285.1" y2="501.0"/>
<line class="sp" x1="110.2" y1="619.9" x2="285.1" y2="501.0"/>
<line class="sp" x1="183.9" y1="615.0" x2="285.1" y2="501.0"/>
<line class="sp" x1="386.0" y1="615.0" x2="285.1" y2="501.0"/>
<line class="sp" x1="459.7" y1="619.9" x2="285.1" y2="501.0"/>
<line class="sp" x1="247.0" y1="651.1" x2="285.1" y2="501.0"/>
<line class="sp" x1="322.9" y1="651.1" x2="285.1" y2="501.0"/>
<line class="sp" x1="178.7" y1="692.2" x2="285.1" y2="501.0"/>
<line class="sp" x1="391.3" y1="692.2" x2="285.1" y2="501.0"/>
<line class="sp" x1="285.0" y1="716.3" x2="285.1" y2="501.0"/>
<line class="sp" x1="614.6" y1="302.3" x2="686.2" y2="322.9"/>
<line class="sp" x1="739.4" y1="270.4" x2="686.2" y2="322.9"/>
<line class="sp" x1="706.8" y1="393.8" x2="686.2" y2="322.9"/>
<line class="sp" x1="711.5" y1="522.1" x2="711.5" y2="708.0"/>
<line class="sp" x1="597.3" y1="572.4" x2="711.5" y2="708.0"/>
<line class="sp" x1="670.3" y1="588.7" x2="711.5" y2="708.0"/>
<line class="sp" x1="752.6" y1="588.7" x2="711.5" y2="708.0"/>
<line class="sp" x1="825.6" y1="572.4" x2="711.5" y2="708.0"/>
<line class="sp" x1="604.4" y1="646.2" x2="711.5" y2="708.0"/>
<line class="sp" x1="818.5" y1="646.2" x2="711.5" y2="708.0"/>
<line class="sp" x1="541.0" y1="679.5" x2="711.5" y2="708.0"/>
<line class="sp" x1="882.0" y1="679.5" x2="711.5" y2="708.0"/>
<line class="sp" x1="584.2" y1="737.0" x2="711.5" y2="708.0"/>
<line class="sp" x1="838.7" y1="733.0" x2="711.5" y2="708.0"/>
<line class="sp" x1="559.4" y1="805.7" x2="711.5" y2="708.0"/>
<line class="sp" x1="632.1" y1="802.9" x2="711.5" y2="708.0"/>
<line class="sp" x1="790.9" y1="801.4" x2="711.5" y2="708.0"/>
<line class="sp" x1="863.6" y1="804.2" x2="711.5" y2="708.0"/>
<line class="sp" x1="711.5" y1="831.9" x2="711.5" y2="708.0"/>
<line class="sp" x1="650.2" y1="877.2" x2="711.5" y2="708.0"/>
<line class="sp" x1="772.8" y1="877.2" x2="711.5" y2="708.0"/>
<line class="sp" x1="259.5" y1="819.8" x2="207.7" y2="871.6"/>
<line class="sp" x1="154.6" y1="925.4" x2="207.7" y2="871.6"/>
<line class="sp" x1="224.0" y1="1007.7" x2="172.3" y2="1060.1"/>
<line class="sp" x1="114.1" y1="1117.6" x2="172.3" y2="1060.1"/>
<line class="sp" x1="734.4" y1="961.6" x2="799.6" y2="1026.8"/>
<line class="sp" x1="864.9" y1="961.6" x2="799.6" y2="1026.8"/>
<line class="sp" x1="734.4" y1="1090.6" x2="799.6" y2="1026.8"/>
<line class="sp" x1="864.9" y1="1090.6" x2="799.6" y2="1026.8"/>
<line class="sp" x1="202.8" y1="1191.7" x2="202.8" y2="1334.2"/>
<line class="sp" x1="144.3" y1="1239.2" x2="202.8" y2="1334.2"/>
<line class="sp" x1="261.3" y1="1239.2" x2="202.8" y2="1334.2"/>
<line class="sp" x1="76.6" y1="1264.7" x2="202.8" y2="1334.2"/>
<line class="sp" x1="328.9" y1="1264.7" x2="202.8" y2="1334.2"/>
<line class="sp" x1="84.7" y1="1338.4" x2="202.8" y2="1334.2"/>
<line class="sp" x1="320.8" y1="1338.4" x2="202.8" y2="1334.2"/>
<line class="sp" x1="76.6" y1="1415.0" x2="202.8" y2="1334.2"/>
<line class="sp" x1="328.9" y1="1415.0" x2="202.8" y2="1334.2"/>
<line class="sp" x1="149.6" y1="1432.7" x2="202.8" y2="1334.2"/>
<line class="sp" x1="255.9" y1="1432.7" x2="202.8" y2="1334.2"/>
<line class="sp" x1="202.8" y1="1485.9" x2="202.8" y2="1334.2"/>
<line class="sp" x1="757.3" y1="1188.8" x2="757.3" y2="1305.8"/>
<line class="sp" x1="667.6" y1="1230.0" x2="757.3" y2="1305.8"/>
<line class="sp" x1="846.9" y1="1230.0" x2="757.3" y2="1305.8"/>
<line class="sp" x1="649.5" y1="1326.4" x2="757.3" y2="1305.8"/>
<line class="sp" x1="865.0" y1="1326.4" x2="757.3" y2="1305.8"/>
<line class="sp" x1="708.7" y1="1406.5" x2="757.3" y2="1305.8"/>
<line class="sp" x1="805.8" y1="1406.5" x2="757.3" y2="1305.8"/>
<line class="sp" x1="771.9" y1="1497.2" x2="771.9" y2="1606.3"/>
<line class="sp" x1="700.6" y1="1541.1" x2="771.9" y2="1606.3"/>
<line class="sp" x1="843.1" y1="1541.1" x2="771.9" y2="1606.3"/>
<line class="sp" x1="671.2" y1="1606.3" x2="771.9" y2="1606.3"/>
<line class="sp" x1="872.6" y1="1606.3" x2="771.9" y2="1606.3"/>
<line class="sp" x1="700.6" y1="1671.6" x2="771.9" y2="1606.3"/>
<line class="sp" x1="843.1" y1="1671.6" x2="771.9" y2="1606.3"/>
<line class="sp" x1="771.9" y1="1705.6" x2="771.9" y2="1606.3"/>
<line class="sp" x1="114.9" y1="1579.4" x2="180.1" y2="1643.9"/>
<line class="sp" x1="245.3" y1="1579.4" x2="180.1" y2="1643.9"/>
<line class="sp" x1="114.9" y1="1709.1" x2="180.1" y2="1643.9"/>
<line class="sp" x1="245.3" y1="1709.1" x2="180.1" y2="1643.9"/>
<circle cx="285.2" cy="504.2" r="91.5" fill="#AE9152"/>
<circle cx="686.2" cy="322.9" r="32.2" fill="#AE9152"/>
<circle cx="711.0" cy="708.0" r="73.95" fill="#AE9152"/>
<circle cx="207.7" cy="871.6" r="25.2" fill="#AE9152"/>
<circle cx="172.3" cy="1060.1" r="25.2" fill="#AE9152"/>
<circle cx="799.6" cy="1026.8" r="35.2" fill="#AE9152"/>
<circle cx="202.8" cy="1334.2" r="59.7" fill="#AE9152"/>
<circle cx="757.3" cy="1305.8" r="53.2" fill="#AE9152"/>
<circle cx="771.9" cy="1606.3" r="53.2" fill="#AE9152"/>
<circle cx="180.1" cy="1643.9" r="35.2" fill="#AE9152"/>
<circle cx="178.3" cy="280.6" r="34.3" fill="#AE9152"/>
<circle cx="285.0" cy="286.7" r="34.3" fill="#AE9152"/>
<circle cx="391.7" cy="280.6" r="34.3" fill="#AE9152"/>
<circle cx="157.0" cy="347.2" r="34.3" fill="#AE9152"/>
<circle cx="248.8" cy="349.8" r="34.3" fill="#AE9152"/>
<circle cx="321.2" cy="349.8" r="34.3" fill="#AE9152"/>
<circle cx="412.9" cy="347.2" r="34.3" fill="#AE9152"/>
<circle cx="78.7" cy="429.5" r="34.3" fill="#AE9152"/>
<circle cx="163.1" cy="418.6" r="34.3" fill="#AE9152"/>
<circle cx="406.9" cy="418.6" r="34.3" fill="#AE9152"/>
<circle cx="491.3" cy="429.5" r="34.3" fill="#AE9152"/>
<circle cx="125.1" cy="483.1" r="34.3" fill="#AE9152"/>
<circle cx="444.8" cy="483.1" r="34.3" fill="#AE9152"/>
<circle cx="67.7" cy="526.3" r="34.3" fill="#AE9152"/>
<circle cx="502.2" cy="526.3" r="34.3" fill="#AE9152"/>
<circle cx="142.1" cy="554.0" r="34.3" fill="#AE9152"/>
<circle cx="427.8" cy="554.0" r="34.3" fill="#AE9152"/>
<circle cx="110.2" cy="619.9" r="34.3" fill="#AE9152"/>
<circle cx="183.9" cy="615.0" r="34.3" fill="#AE9152"/>
<circle cx="386.0" cy="615.0" r="34.3" fill="#AE9152"/>
<circle cx="459.7" cy="619.9" r="34.3" fill="#AE9152"/>
<circle cx="247.0" cy="651.1" r="34.3" fill="#AE9152"/>
<circle cx="322.9" cy="651.1" r="34.3" fill="#AE9152"/>
<circle cx="178.7" cy="692.2" r="34.3" fill="#AE9152"/>
<circle cx="391.3" cy="692.2" r="34.3" fill="#AE9152"/>
<circle cx="285.0" cy="716.3" r="34.3" fill="#AE9152"/>
<circle cx="614.6" cy="302.3" r="34.3" fill="#AE9152"/>
<circle cx="739.4" cy="270.4" r="34.3" fill="#AE9152"/>
<circle cx="706.8" cy="393.8" r="34.3" fill="#AE9152"/>
<circle cx="711.5" cy="522.1" r="34.3" fill="#AE9152"/>
<circle cx="597.3" cy="572.4" r="34.3" fill="#AE9152"/>
<circle cx="670.3" cy="588.7" r="34.3" fill="#AE9152"/>
<circle cx="752.6" cy="588.7" r="34.3" fill="#AE9152"/>
<circle cx="825.6" cy="572.4" r="34.3" fill="#AE9152"/>
<circle cx="604.4" cy="646.2" r="34.3" fill="#AE9152"/>
<circle cx="818.5" cy="646.2" r="34.3" fill="#AE9152"/>
<circle cx="541.0" cy="679.5" r="34.3" fill="#AE9152"/>
<circle cx="882.0" cy="679.5" r="34.3" fill="#AE9152"/>
<circle cx="584.2" cy="737.0" r="34.3" fill="#AE9152"/>
<circle cx="838.7" cy="733.0" r="34.3" fill="#AE9152"/>
<circle cx="559.4" cy="805.7" r="34.3" fill="#AE9152"/>
<circle cx="632.1" cy="802.9" r="34.3" fill="#AE9152"/>
<circle cx="790.9" cy="801.4" r="34.3" fill="#AE9152"/>
<circle cx="863.6" cy="804.2" r="34.3" fill="#AE9152"/>
<circle cx="711.5" cy="831.9" r="34.3" fill="#AE9152"/>
<circle cx="650.2" cy="877.2" r="34.3" fill="#AE9152"/>
<circle cx="772.8" cy="877.2" r="34.3" fill="#AE9152"/>
<circle cx="259.5" cy="819.8" r="34.3" fill="#AE9152"/>
<circle cx="154.6" cy="925.4" r="34.3" fill="#AE9152"/>
<circle cx="224.0" cy="1007.7" r="34.3" fill="#AE9152"/>
<circle cx="114.1" cy="1117.6" r="34.3" fill="#AE9152"/>
<circle cx="734.4" cy="961.6" r="34.3" fill="#AE9152"/>
<circle cx="864.9" cy="961.6" r="34.3" fill="#AE9152"/>
<circle cx="734.4" cy="1090.6" r="34.3" fill="#AE9152"/>
<circle cx="864.9" cy="1090.6" r="34.3" fill="#AE9152"/>
<circle cx="202.8" cy="1191.7" r="34.3" fill="#AE9152"/>
<circle cx="144.3" cy="1239.2" r="34.3" fill="#AE9152"/>
<circle cx="261.3" cy="1239.2" r="34.3" fill="#AE9152"/>
<circle cx="76.6" cy="1264.7" r="34.3" fill="#AE9152"/>
<circle cx="328.9" cy="1264.7" r="34.3" fill="#AE9152"/>
<circle cx="84.7" cy="1338.4" r="34.3" fill="#AE9152"/>
<circle cx="320.8" cy="1338.4" r="34.3" fill="#AE9152"/>
<circle cx="76.6" cy="1415.0" r="34.3" fill="#AE9152"/>
<circle cx="328.9" cy="1415.0" r="34.3" fill="#AE9152"/>
<circle cx="149.6" cy="1432.7" r="34.3" fill="#AE9152"/>
<circle cx="255.9" cy="1432.7" r="34.3" fill="#AE9152"/>
<circle cx="202.8" cy="1485.9" r="34.3" fill="#AE9152"/>
<circle cx="757.3" cy="1188.8" r="34.3" fill="#AE9152"/>
<circle cx="667.6" cy="1230.0" r="34.3" fill="#AE9152"/>
<circle cx="846.9" cy="1230.0" r="34.3" fill="#AE9152"/>
<circle cx="649.5" cy="1326.4" r="34.3" fill="#AE9152"/>
<circle cx="865.0" cy="1326.4" r="34.3" fill="#AE9152"/>
<circle cx="708.7" cy="1406.5" r="34.3" fill="#AE9152"/>
<circle cx="805.8" cy="1406.5" r="34.3" fill="#AE9152"/>
<circle cx="771.9" cy="1497.2" r="34.3" fill="#AE9152"/>
<circle cx="700.6" cy="1541.1" r="34.3" fill="#AE9152"/>
<circle cx="843.1" cy="1541.1" r="34.3" fill="#AE9152"/>
<circle cx="671.2" cy="1606.3" r="34.3" fill="#AE9152"/>
<circle cx="872.6" cy="1606.3" r="34.3" fill="#AE9152"/>
<circle cx="700.6" cy="1671.6" r="34.3" fill="#AE9152"/>
<circle cx="843.1" cy="1671.6" r="34.3" fill="#AE9152"/>
<circle cx="771.9" cy="1705.6" r="34.3" fill="#AE9152"/>
<circle cx="114.9" cy="1579.4" r="34.3" fill="#AE9152"/>
<circle cx="245.3" cy="1579.4" r="34.3" fill="#AE9152"/>
<circle cx="114.9" cy="1709.1" r="34.3" fill="#AE9152"/>
<circle cx="245.3" cy="1709.1" r="34.3" fill="#AE9152"/>
<polyline class="cn" stroke-width="1.7" points="285.2,504.2 423.0,891.0"/>
<polyline class="cn" stroke-width="1.7" points="678.0,323.0 473.0,699.0 473.0,724.5"/>
<polyline class="cn" stroke-width="1.7" points="711.0,708.0 569.0,1221.0 534.0,1221.0"/>
<polyline class="cn" stroke-width="1.7" points="207.7,871.6 309.8,871.6 390.6,1119.7 421.8,1119.7"/>
<polyline class="cn" stroke-width="1.7" points="172.3,1065.3 312.7,1065.3 407.6,1369.0 429.0,1369.0"/>
<polyline class="cn" stroke-width="1.7" points="799.6,1026.8 660.0,1026.5 551.5,1406.5 523.0,1406.5"/>
<polyline class="cn" stroke-width="1.7" points="202.8,1334.2 409.8,1522.0"/>
<polyline class="cn" stroke-width="1.7" points="731.7,1305.8 606.8,1583.7"/>
<polyline class="cn" stroke-width="1.7" points="771.9,1606.3 615.3,1723.3"/>
<polyline class="cn" stroke-width="1.7" points="180.0,1646.8 276.5,1646.8 348.8,1685.8"/>
<g clip-path="url(#pc1)"><use href="#statue" transform="translate(0,0)" fill="#fff"/></g>
<g clip-path="url(#sc1)">
<rect x="250" y="779.2" width="450" height="2.6" fill="#AE9152"/>
<rect x="250" y="1105.7" width="450" height="2.6" fill="#AE9152"/>
<rect x="250" y="1129.7" width="450" height="2.6" fill="#AE9152"/>
<rect x="250" y="1355.7" width="450" height="2.6" fill="#AE9152"/>
<rect x="250" y="1379.7" width="450" height="2.6" fill="#AE9152"/>
<rect x="250" y="1431.2" width="450" height="2.6" fill="#AE9152"/>
<rect x="250" y="1582.2" width="450" height="2.6" fill="#AE9152"/>
<rect x="250" y="1670.2" width="450" height="2.6" fill="#AE9152"/>
</g>
<circle cx="285.2" cy="504.2" r="89.3" fill="#000"/>
<circle cx="686.2" cy="322.9" r="30" fill="#000"/>
<circle cx="711.0" cy="708.0" r="71.75" fill="#000"/>
<circle cx="207.7" cy="871.6" r="23" fill="#000"/>
<circle cx="172.3" cy="1060.1" r="23" fill="#000"/>
<circle cx="799.6" cy="1026.8" r="33" fill="#000"/>
<circle cx="202.8" cy="1334.2" r="57.5" fill="#000"/>
<circle cx="757.3" cy="1305.8" r="51" fill="#000"/>
<circle cx="771.9" cy="1606.3" r="51" fill="#000"/>
<circle cx="180.1" cy="1643.9" r="33" fill="#000"/>
<circle cx="178.3" cy="280.6" r="33.3" fill="#fff"/>
<text class="yr" x="178.3" y="266.7">1992</text>
<text class="nm" x="178.3" y="280.1">Emma</text>
<text class="nm" x="178.3" y="293.4">Thompson</text>
<circle cx="285.0" cy="286.7" r="33.3" fill="#fff"/>
<text class="yr" x="285.0" y="277.4">1928/27</text>
<text class="nm" x="285.0" y="290.8">Janet</text>
<text class="nm" x="285.0" y="304.2">Gaynor</text>
<circle cx="391.7" cy="280.6" r="33.3" fill="#fff"/>
<text class="yr" x="391.7" y="271.2">1931/30</text>
<text class="nm" x="391.7" y="284.7">Marie</text>
<text class="nm" x="391.7" y="298.1">Dessler</text>
<circle cx="157.0" cy="347.2" r="33.3" fill="#fff"/>
<text class="yr" x="157.0" y="345.4">1987</text>
<text class="nm" x="157.0" y="358.7">Cher</text>
<circle cx="248.8" cy="349.8" r="33.3" fill="#fff"/>
<text class="yr" x="248.8" y="340.5">2001</text>
<text class="nm" x="248.8" y="353.9">Halle</text>
<text class="nm" x="248.8" y="367.3">Berry</text>
<circle cx="321.2" cy="349.8" r="33.3" fill="#fff"/>
<text class="yr" x="321.2" y="340.5">1930/29</text>
<text class="nm" x="321.2" y="353.9">Norma</text>
<text class="nm" x="321.2" y="367.3">Shearer</text>
<circle cx="412.9" cy="347.2" r="33.3" fill="#fff"/>
<text class="yr" x="412.9" y="337.9">1932/31</text>
<text class="nm" x="412.9" y="351.3">Helen</text>
<text class="nm" x="412.9" y="364.7">Hays</text>
<circle cx="78.7" cy="429.5" r="33.3" fill="#fff"/>
<text class="yr" x="78.7" y="420.2">1983</text>
<text class="nm" x="78.7" y="433.6">Shirly</text>
<text class="nm" x="78.7" y="447.0">MacLaine</text>
<circle cx="163.1" cy="418.6" r="33.3" fill="#fff"/>
<text class="yr" x="163.1" y="409.3">1984</text>
<text class="nm" x="163.1" y="422.7">Sally</text>
<text class="nm" x="163.1" y="436.1">Field</text>
<circle cx="406.9" cy="418.6" r="33.3" fill="#fff"/>
<text class="yr" x="406.9" y="409.3">1939</text>
<text class="nm" x="406.9" y="422.7">Vivien</text>
<text class="nm" x="406.9" y="436.1">Leigh</text>
<circle cx="491.3" cy="429.5" r="33.3" fill="#fff"/>
<text class="yr" x="491.3" y="420.2">1940</text>
<text class="nm" x="491.3" y="433.6">Ginger</text>
<text class="nm" x="491.3" y="447.0">Rogers</text>
<circle cx="125.1" cy="483.1" r="33.3" fill="#fff"/>
<text class="yr" x="125.1" y="473.8">1978</text>
<text class="nm" x="125.1" y="487.2">Jane</text>
<text class="nm" x="125.1" y="500.6">Fonda</text>
<circle cx="444.8" cy="483.1" r="33.3" fill="#fff"/>
<text class="yr" x="444.8" y="473.8">1941</text>
<text class="nm" x="444.8" y="487.2">Joan</text>
<text class="nm" x="444.8" y="500.6">Fontaine</text>
<circle cx="67.7" cy="526.3" r="33.3" fill="#fff"/>
<text class="yr" x="67.7" y="517.0">1974</text>
<text class="nm" x="67.7" y="530.4">Ellen</text>
<text class="nm" x="67.7" y="543.8">Burstyn</text>
<circle cx="502.2" cy="526.3" r="33.3" fill="#fff"/>
<text class="yr" x="502.2" y="517.0">1942</text>
<text class="nm" x="502.2" y="530.4">Greer</text>
<text class="nm" x="502.2" y="543.8">Garson</text>
<circle cx="142.1" cy="554.0" r="33.3" fill="#fff"/>
<text class="yr" x="142.1" y="544.7">1973</text>
<text class="nm" x="142.1" y="558.1">Glenda</text>
<text class="nm" x="142.1" y="571.5">Jackson</text>
<circle cx="427.8" cy="554.0" r="33.3" fill="#fff"/>
<text class="yr" x="427.8" y="544.7">1945</text>
<text class="nm" x="427.8" y="558.1">Joan</text>
<text class="nm" x="427.8" y="571.5">Crawford</text>
<circle cx="110.2" cy="619.9" r="33.3" fill="#fff"/>
<text class="yr" x="110.2" y="610.6">1970</text>
<text class="nm" x="110.2" y="624.0">Glenda</text>
<text class="nm" x="110.2" y="637.4">Jackson</text>
<circle cx="183.9" cy="615.0" r="33.3" fill="#fff"/>
<text class="yr" x="183.9" y="605.7">1967</text>
<text class="nm" x="183.9" y="619.1">Katharine</text>
<text class="nm" x="183.9" y="632.5">Hepburn</text>
<circle cx="386.0" cy="615.0" r="33.3" fill="#fff"/>
<text class="yr" x="386.0" y="605.7">1951</text>
<text class="nm" x="386.0" y="619.1">Vivien</text>
<text class="nm" x="386.0" y="632.5">Leigh</text>
<circle cx="459.7" cy="619.9" r="33.3" fill="#fff"/>
<text class="yr" x="459.7" y="610.6">1949</text>
<text class="nm" x="459.7" y="624.0">Olivia de</text>
<text class="nm" x="459.7" y="637.4">Havilland</text>
<circle cx="247.0" cy="651.1" r="33.3" fill="#fff"/>
<text class="yr" x="247.0" y="641.8">1959</text>
<text class="nm" x="247.0" y="655.2">Simone</text>
<text class="nm" x="247.0" y="668.6">Signoret</text>
<circle cx="322.9" cy="651.1" r="33.3" fill="#fff"/>
<text class="yr" x="322.9" y="641.8">1954</text>
<text class="nm" x="322.9" y="655.2">Grace</text>
<text class="nm" x="322.9" y="668.6">Kelly</text>
<circle cx="178.7" cy="692.2" r="33.3" fill="#fff"/>
<text class="yr" x="178.7" y="682.9">1961</text>
<text class="nm" x="178.7" y="696.3">Sofia</text>
<text class="nm" x="178.7" y="709.7">Loren</text>
<circle cx="391.3" cy="692.2" r="33.3" fill="#fff"/>
<text class="yr" x="391.3" y="682.9">1952</text>
<text class="nm" x="391.3" y="696.3">Shirley</text>
<text class="nm" x="391.3" y="709.7">Booth</text>
<circle cx="285.0" cy="716.3" r="33.3" fill="#fff"/>
<text class="yr" x="285.0" y="707.0">1955</text>
<text class="nm" x="285.0" y="720.4">Anna</text>
<text class="nm" x="285.0" y="733.8">Magnani</text>
<circle cx="614.6" cy="302.3" r="33.3" fill="#fff"/>
<text class="yr" x="614.6" y="293.0">2008</text>
<text class="nm" x="614.6" y="306.4">Kate</text>
<text class="nm" x="614.6" y="319.8">Winslet</text>
<circle cx="739.4" cy="270.4" r="33.3" fill="#fff"/>
<text class="yr" x="739.4" y="259.6">1975</text>
<text class="nm" x="739.4" y="273.0">Louise</text>
<text class="nm" x="739.4" y="286.4">Fletcher</text>
<circle cx="706.8" cy="393.8" r="33.3" fill="#fff"/>
<text class="yr" x="706.8" y="384.5">1990</text>
<text class="nm" x="706.8" y="397.9">Kathy</text>
<text class="nm" x="706.8" y="411.3">Bates</text>
<circle cx="711.5" cy="522.1" r="33.3" fill="#fff"/>
<text class="yr" x="711.5" y="512.8">1936</text>
<text class="nm" x="711.5" y="526.2">Luise</text>
<text class="nm" x="711.5" y="539.6">Rainer</text>
<circle cx="597.3" cy="572.4" r="33.3" fill="#fff"/>
<text class="yr" x="597.3" y="563.1">2009</text>
<text class="nm" x="597.3" y="576.5">Sandra</text>
<text class="nm" x="597.3" y="589.9">Bullock</text>
<circle cx="670.3" cy="588.7" r="33.3" fill="#fff"/>
<text class="yr" x="670.3" y="579.4">2011</text>
<text class="nm" x="670.3" y="592.8">Meryl</text>
<text class="nm" x="670.3" y="606.2">Streep</text>
<circle cx="752.6" cy="588.7" r="33.3" fill="#fff"/>
<text class="yr" x="752.6" y="579.4">1943</text>
<text class="nm" x="752.6" y="592.8">Jennifer</text>
<text class="nm" x="752.6" y="606.2">Jones</text>
<circle cx="825.6" cy="572.4" r="33.3" fill="#fff"/>
<text class="yr" x="825.6" y="563.1">1948</text>
<text class="nm" x="825.6" y="576.5">Jane</text>
<text class="nm" x="825.6" y="589.9">Wyman</text>
<circle cx="604.4" cy="646.2" r="33.3" fill="#fff"/>
<text class="yr" x="604.4" y="636.9">2007</text>
<text class="nm" x="604.4" y="650.3">Marion</text>
<text class="nm" x="604.4" y="663.7">Cotillard</text>
<circle cx="818.5" cy="646.2" r="33.3" fill="#fff"/>
<text class="yr" x="818.5" y="636.9">1962</text>
<text class="nm" x="818.5" y="650.3">Anne</text>
<text class="nm" x="818.5" y="663.7">Bancroft</text>
<circle cx="541.0" cy="679.5" r="33.3" fill="#fff"/>
<text class="yr" x="541.0" y="670.2">2006</text>
<text class="nm" x="541.0" y="683.6">Helen</text>
<text class="nm" x="541.0" y="697.0">Mirren</text>
<circle cx="882.0" cy="679.5" r="33.3" fill="#fff"/>
<text class="yr" x="882.0" y="670.2">1968</text>
<text class="nm" x="882.0" y="683.6">Barbra</text>
<text class="nm" x="882.0" y="697.0">Streisand</text>
<circle cx="584.2" cy="737.0" r="33.3" fill="#fff"/>
<text class="yr" x="584.2" y="721.2">2005</text>
<text class="nm" x="584.2" y="734.6">Reese</text>
<text class="nm" x="584.2" y="748.0">Witherspoon</text>
<circle cx="838.7" cy="733.0" r="33.3" fill="#fff"/>
<text class="yr" x="838.7" y="725.0">1968</text>
<text class="nm" x="838.7" y="738.4">Katharine</text>
<text class="nm" x="838.7" y="751.8">Hepburn</text>
<circle cx="559.4" cy="805.7" r="33.3" fill="#fff"/>
<text class="yr" x="559.4" y="794.9">2003</text>
<text class="nm" x="559.4" y="808.3">Charlize</text>
<text class="nm" x="559.4" y="821.7">Theron</text>
<circle cx="632.1" cy="802.9" r="33.3" fill="#fff"/>
<text class="yr" x="632.1" y="792.1">2002</text>
<text class="nm" x="632.1" y="805.5">Nicole</text>
<text class="nm" x="632.1" y="818.9">Kidman</text>
<circle cx="790.9" cy="801.4" r="33.3" fill="#fff"/>
<text class="yr" x="790.9" y="792.1">1980</text>
<text class="nm" x="790.9" y="805.5">Sissy</text>
<text class="nm" x="790.9" y="818.9">Spacek</text>
<circle cx="863.6" cy="804.2" r="33.3" fill="#fff"/>
<text class="yr" x="863.6" y="794.9">1979</text>
<text class="nm" x="863.6" y="808.3">Sally</text>
<text class="nm" x="863.6" y="821.7">Field</text>
<circle cx="711.5" cy="831.9" r="33.3" fill="#fff"/>
<text class="yr" x="711.5" y="822.6">1999</text>
<text class="nm" x="711.5" y="836.0">Hilary</text>
<text class="nm" x="711.5" y="849.4">Swank</text>
<circle cx="650.2" cy="877.2" r="33.3" fill="#fff"/>
<text class="yr" x="650.2" y="867.9">2000</text>
<text class="nm" x="650.2" y="881.3">Julia</text>
<text class="nm" x="650.2" y="894.7">Roberts</text>
<circle cx="772.8" cy="877.2" r="33.3" fill="#fff"/>
<text class="yr" x="772.8" y="867.9">1995</text>
<text class="nm" x="772.8" y="881.3">Susan</text>
<text class="nm" x="772.8" y="894.7">Sarandon</text>
<circle cx="259.5" cy="819.8" r="33.3" fill="#fff"/>
<text class="yr" x="259.5" y="810.5">1982</text>
<text class="nm" x="259.5" y="823.9">Meryl</text>
<text class="nm" x="259.5" y="837.3">Streep</text>
<circle cx="154.6" cy="925.4" r="33.3" fill="#fff"/>
<text class="yr" x="154.6" y="916.1">1956</text>
<text class="nm" x="154.6" y="929.5">Ingrid</text>
<text class="nm" x="154.6" y="942.9">Bergman</text>
<circle cx="224.0" cy="1007.7" r="33.3" fill="#fff"/>
<text class="yr" x="224.0" y="998.4">1985</text>
<text class="nm" x="224.0" y="1011.8">Geraldine</text>
<text class="nm" x="224.0" y="1025.2">Page</text>
<circle cx="114.1" cy="1117.6" r="33.3" fill="#fff"/>
<text class="yr" x="114.1" y="1108.3">1981</text>
<text class="nm" x="114.1" y="1121.7">Katharine</text>
<text class="nm" x="114.1" y="1135.1">Hepburn</text>
<circle cx="734.4" cy="961.6" r="33.3" fill="#fff"/>
<text class="yr" x="734.4" y="952.3">1971</text>
<text class="nm" x="734.4" y="965.7">Jane</text>
<text class="nm" x="734.4" y="979.1">Fonda</text>
<circle cx="864.9" cy="961.6" r="33.3" fill="#fff"/>
<text class="yr" x="864.9" y="952.3">1950</text>
<text class="nm" x="864.9" y="965.7">Judy</text>
<text class="nm" x="864.9" y="979.1">Holliday</text>
<circle cx="734.4" cy="1090.6" r="33.3" fill="#fff"/>
<text class="yr" x="734.4" y="1081.3">1960</text>
<text class="nm" x="734.4" y="1094.7">Elizabeth</text>
<text class="nm" x="734.4" y="1108.1">Taylor</text>
<circle cx="864.9" cy="1090.6" r="33.3" fill="#fff"/>
<text class="yr" x="864.9" y="1081.3">1958</text>
<text class="nm" x="864.9" y="1094.7">Susan</text>
<text class="nm" x="864.9" y="1108.1">Hayward</text>
<circle cx="202.8" cy="1191.7" r="33.3" fill="#fff"/>
<text class="yr" x="202.8" y="1182.4">1929/28</text>
<text class="nm" x="202.8" y="1195.8">Mary</text>
<text class="nm" x="202.8" y="1209.2">Pickford</text>
<circle cx="144.3" cy="1239.2" r="33.3" fill="#fff"/>
<text class="yr" x="144.3" y="1229.9">1997</text>
<text class="nm" x="144.3" y="1243.3">Helen</text>
<text class="nm" x="144.3" y="1256.7">Hunt</text>
<circle cx="261.3" cy="1239.2" r="33.3" fill="#fff"/>
<text class="yr" x="261.3" y="1229.9">1934</text>
<text class="nm" x="261.3" y="1243.3">Claudette</text>
<text class="nm" x="261.3" y="1256.7">Colbert</text>
<circle cx="76.6" cy="1264.7" r="33.3" fill="#fff"/>
<text class="yr" x="76.6" y="1253.9">1996</text>
<text class="nm" x="76.6" y="1267.3">Frances</text>
<text class="nm" x="76.6" y="1280.7">McDormand</text>
<circle cx="328.9" cy="1264.7" r="33.3" fill="#fff"/>
<text class="yr" x="328.9" y="1255.4">1938</text>
<text class="nm" x="328.9" y="1268.8">Bette</text>
<text class="nm" x="328.9" y="1282.2">Davis</text>
<circle cx="84.7" cy="1338.4" r="33.3" fill="#fff"/>
<text class="yr" x="84.7" y="1329.1">1991</text>
<text class="nm" x="84.7" y="1342.5">Jodie</text>
<text class="nm" x="84.7" y="1355.9">Foster</text>
<circle cx="320.8" cy="1338.4" r="33.3" fill="#fff"/>
<text class="yr" x="320.8" y="1329.1">1946</text>
<text class="nm" x="320.8" y="1342.5">Olivia de</text>
<text class="nm" x="320.8" y="1355.9">Havilland</text>
<circle cx="76.6" cy="1415.0" r="33.3" fill="#fff"/>
<text class="yr" x="76.6" y="1405.7">1989</text>
<text class="nm" x="76.6" y="1419.1">Jessica</text>
<text class="nm" x="76.6" y="1432.5">Tandy</text>
<circle cx="328.9" cy="1415.0" r="33.3" fill="#fff"/>
<text class="yr" x="328.9" y="1405.7">1953</text>
<text class="nm" x="328.9" y="1419.1">Audrey</text>
<text class="nm" x="328.9" y="1432.5">Hepburn</text>
<circle cx="149.6" cy="1432.7" r="33.3" fill="#fff"/>
<text class="yr" x="149.6" y="1423.4">1988</text>
<text class="nm" x="149.6" y="1436.8">Jodie</text>
<text class="nm" x="149.6" y="1450.2">Foster</text>
<circle cx="255.9" cy="1432.7" r="33.3" fill="#fff"/>
<text class="yr" x="255.9" y="1423.4">1969</text>
<text class="nm" x="255.9" y="1436.8">Maggie</text>
<text class="nm" x="255.9" y="1450.2">Smith</text>
<circle cx="202.8" cy="1485.9" r="33.3" fill="#fff"/>
<text class="yr" x="202.8" y="1476.6">1976</text>
<text class="nm" x="202.8" y="1490.0">Faye</text>
<text class="nm" x="202.8" y="1503.4">Dunaway</text>
<circle cx="757.3" cy="1188.8" r="33.3" fill="#fff"/>
<text class="yr" x="757.3" y="1179.5">1933</text>
<text class="nm" x="757.3" y="1192.9">Katharine</text>
<text class="nm" x="757.3" y="1206.3">Hepburn</text>
<circle cx="667.6" cy="1230.0" r="33.3" fill="#fff"/>
<text class="yr" x="667.6" y="1220.7">1998</text>
<text class="nm" x="667.6" y="1234.1">Gwyneth</text>
<text class="nm" x="667.6" y="1247.5">Paltrow</text>
<circle cx="846.9" cy="1230.0" r="33.3" fill="#fff"/>
<text class="yr" x="846.9" y="1220.7">1935</text>
<text class="nm" x="846.9" y="1234.1">Bette</text>
<text class="nm" x="846.9" y="1247.5">Davis</text>
<circle cx="649.5" cy="1326.4" r="33.3" fill="#fff"/>
<text class="yr" x="649.5" y="1317.1">1977</text>
<text class="nm" x="649.5" y="1330.5">Diane</text>
<text class="nm" x="649.5" y="1343.9">Keaton</text>
<circle cx="865.0" cy="1326.4" r="33.3" fill="#fff"/>
<text class="yr" x="865.0" y="1317.1">1944</text>
<text class="nm" x="865.0" y="1330.5">Ingrid</text>
<text class="nm" x="865.0" y="1343.9">Bergman</text>
<circle cx="708.7" cy="1406.5" r="33.3" fill="#fff"/>
<text class="yr" x="708.7" y="1397.2">1972</text>
<text class="nm" x="708.7" y="1410.6">Liza</text>
<text class="nm" x="708.7" y="1424.0">Minnelli</text>
<circle cx="805.8" cy="1406.5" r="33.3" fill="#fff"/>
<text class="yr" x="805.8" y="1397.2">1965</text>
<text class="nm" x="805.8" y="1410.6">Julie</text>
<text class="nm" x="805.8" y="1424.0">Christie</text>
<circle cx="771.9" cy="1497.2" r="33.3" fill="#fff"/>
<text class="yr" x="771.9" y="1487.9">1957</text>
<text class="nm" x="771.9" y="1501.3">Joanne</text>
<text class="nm" x="771.9" y="1514.7">Woodward</text>
<circle cx="700.6" cy="1541.1" r="33.3" fill="#fff"/>
<text class="yr" x="700.6" y="1531.8">2012</text>
<text class="nm" x="700.6" y="1545.2">Jennifer</text>
<text class="nm" x="700.6" y="1558.6">Lawrence</text>
<circle cx="843.1" cy="1541.1" r="33.3" fill="#fff"/>
<text class="yr" x="843.1" y="1531.8">1966</text>
<text class="nm" x="843.1" y="1545.2">Elizabeth</text>
<text class="nm" x="843.1" y="1558.6">Taylor</text>
<circle cx="671.2" cy="1606.3" r="33.3" fill="#fff"/>
<text class="yr" x="671.2" y="1597.0">2010</text>
<text class="nm" x="671.2" y="1610.4">Natalie</text>
<text class="nm" x="671.2" y="1623.8">Portman</text>
<circle cx="872.6" cy="1606.3" r="33.3" fill="#fff"/>
<text class="yr" x="872.6" y="1597.0">1986</text>
<text class="nm" x="872.6" y="1610.4">Marlee</text>
<text class="nm" x="872.6" y="1623.8">Matlin</text>
<circle cx="700.6" cy="1671.6" r="33.3" fill="#fff"/>
<text class="yr" x="700.6" y="1662.3">2004</text>
<text class="nm" x="700.6" y="1675.7">Hilary</text>
<text class="nm" x="700.6" y="1689.1">Swank</text>
<circle cx="843.1" cy="1671.6" r="33.3" fill="#fff"/>
<text class="yr" x="843.1" y="1662.3">1993</text>
<text class="nm" x="843.1" y="1675.7">Holly</text>
<text class="nm" x="843.1" y="1689.1">Hunter</text>
<circle cx="771.9" cy="1705.6" r="33.3" fill="#fff"/>
<text class="yr" x="771.9" y="1696.3">1994</text>
<text class="nm" x="771.9" y="1709.7">Jessica</text>
<text class="nm" x="771.9" y="1723.1">Lange</text>
<circle cx="114.9" cy="1579.4" r="33.3" fill="#fff"/>
<text class="yr" x="114.9" y="1570.1">1964</text>
<text class="nm" x="114.9" y="1583.5">Julie</text>
<text class="nm" x="114.9" y="1596.9">Andrews</text>
<circle cx="245.3" cy="1579.4" r="33.3" fill="#fff"/>
<text class="yr" x="245.3" y="1570.1">1937</text>
<text class="nm" x="245.3" y="1583.5">Luisie</text>
<text class="nm" x="245.3" y="1596.9">Rainer</text>
<circle cx="114.9" cy="1709.1" r="33.3" fill="#fff"/>
<text class="yr" x="114.9" y="1699.8">1963</text>
<text class="nm" x="114.9" y="1713.2">Patricia</text>
<text class="nm" x="114.9" y="1726.6">Neal</text>
<circle cx="245.3" cy="1709.1" r="33.3" fill="#fff"/>
<text class="yr" x="245.3" y="1699.8">1947</text>
<text class="nm" x="245.3" y="1713.2">Loretta</text>
<text class="nm" x="245.3" y="1726.6">Young</text>
<text class="hl" x="285" y="470" style="font-size:24px;fill:#fff;stroke:#fff">VỢ, MẸ,</text>
<text class="hl" x="285" y="499" style="font-size:24px;fill:#fff;stroke:#fff">CHỊ EM GÁI,</text>
<text class="hl" x="285" y="528" style="font-size:24px;fill:#fff;stroke:#fff">CON GÁI,</text>
<text class="hl" x="282.5" y="556.5" style="font-size:24px;fill:#fff;stroke:#fff">BẠN GÁI</text>
<text class="hl" x="688" y="329" style="font-size:18px;fill:#F1ECDD;stroke:none">KẺ ÁC</text>
<text class="hl" x="711" y="704.8" style="font-size:18px;fill:#fff;stroke:#fff">NHÂN VẬT</text>
<text class="hl" x="709" y="725.4" style="font-size:18px;fill:#fff;stroke:#fff">CÓ THẬT</text>
<text class="hl" x="124" y="819" style="font-size:18px;fill:#DCD0AE;stroke:none">NHÂN VẬT HƯ CẤU</text>
<text class="hl" x="124" y="840" style="font-size:18px;fill:#DCD0AE;stroke:none">TRONG MỘT SỰ KIỆN</text>
<text class="hl" x="143" y="861" style="font-size:18px;fill:#DCD0AE;stroke:none">LỊCH SỬ</text>
<text class="hl" x="104" y="1028" style="font-size:18px;fill:#DCD0AE;stroke:none">NGƯỜI</text>
<text class="hl" x="104" y="1048" style="font-size:18px;fill:#DCD0AE;stroke:none">CAO TUỔI</text>
<text class="hl" x="800" y="1020.5" style="font-size:20px;fill:#fff;stroke:#fff">GÁI ĐIẾM,</text>
<text class="hl" x="797.5" y="1044.5" style="font-size:20px;fill:#fff;stroke:#fff">TÌNH NHÂN</text>
<text class="hl" x="203.5" y="1341" style="font-size:19px;fill:#fff;stroke:#fff">KHÁC</text>
<text class="hl" x="756" y="1301" style="font-size:18px;fill:#fff;stroke:#fff">NGHỆ SĨ</text>
<text class="hl" x="756" y="1325" style="font-size:18px;fill:#fff;stroke:#fff">HƯ CẤU</text>
<text class="hl" x="772.5" y="1590.5" style="font-size:18px;fill:#fff;stroke:#fff">NGƯỜI BỊ BỆNH,</text>
<text class="hl" x="772" y="1612.3" style="font-size:18px;fill:#fff;stroke:#fff">TÀN TẬT,</text>
<text class="hl" x="772" y="1633.8" style="font-size:18px;fill:#fff;stroke:#fff">VÔ THỪA NHẬN</text>
<text class="hl" x="183" y="1636.3" style="font-size:18px;fill:#DCD0AE;stroke:none">QUẢN GIA,</text>
<text class="hl" x="181.5" y="1655.6" style="font-size:18px;fill:#DCD0AE;stroke:none">NGƯỜI HẦU</text>
<text class="tl" x="474" y="745" style="font-size:18px">KẺ ÁC</text>
<text class="pc" transform="translate(475,776) scale(0.68,1)" style="font-size:27px;stroke-width:1.2">3.5%</text>
<text class="tl" x="476" y="976" style="font-size:18px">VỢ, MẸ, CHỊ EM GÁI,</text>
<text class="tl" x="468" y="997" style="font-size:18px">CON GÁI, BẠN GÁI</text>
<text class="pc" transform="translate(475,1027) scale(0.68,1)" style="font-size:27px;stroke-width:1.2">30.2%</text>
<text class="pc" transform="translate(475,1128) scale(0.68,1)" style="font-size:27px;stroke-width:1.2">2.3%</text>
<text class="tl" x="472" y="1195" style="font-size:18px">NHÂN VẬT</text>
<text class="tl" x="472" y="1216" style="font-size:18px">CÓ THẬT</text>
<text class="pc" transform="translate(475,1242) scale(0.68,1)" style="font-size:27px;stroke-width:1.2">20.9%</text>
<text class="pc" transform="translate(475,1379) scale(0.68,1)" style="font-size:27px;stroke-width:1.2">2.3%</text>
<text class="pc" transform="translate(475,1417) scale(0.68,1)" style="font-size:27px;stroke-width:1.2">4.7%</text>
<text class="tl" x="474" y="1544" style="font-size:18px">KHÁC</text>
<text class="pc" transform="translate(475,1571) scale(0.68,1)" style="font-size:27px;stroke-width:1.2">14.0%</text>
<text class="tl" x="473" y="1616" style="font-size:18px">DIỄN VIÊN HƯ CẤU</text>
<text class="pc" transform="translate(475,1645) scale(0.68,1)" style="font-size:27px;stroke-width:1.2">8.1%</text>
<text class="pc" transform="translate(475,1703) scale(0.68,1)" style="font-size:27px;stroke-width:1.2">4.7%</text>
<text class="tl" x="476" y="1743" style="font-size:18px">NGƯỜI BỊ BỆNH, TÀN TẬT,</text>
<text class="tl" x="470" y="1764" style="font-size:18px">VÔ THỪA NHẬN</text>
<text class="pc" transform="translate(475,1789) scale(0.68,1)" style="font-size:27px;stroke-width:1.2">9.4%</text>
<text class="ft" x="743" y="1780.7" textLength="168" lengthAdjust="spacingAndGlyphs">THE HUFFINGTON POST</text>
</g>
<g id="p2">
<rect x="18.2" y="1840.0" width="909.9" height="1775.1" fill="none" stroke="#fff" stroke-width="6.4"/>
<rect x="21.9" y="1843.7" width="902.5" height="1767.7" fill="none" stroke="#000" stroke-width="1.2"/>
<path d="M45,1820.8 H167 V2025.8 L106,2054.8 L45,2025.8 Z" fill="#000"/>
<text x="0" y="0" transform="translate(105.5,1962.8) scale(0.635,1)" style="font-family:'Liberation Sans',sans-serif;font-weight:bold;font-size:132px;fill:#fff;stroke:#fff;stroke-width:3;text-anchor:middle;letter-spacing:0px">85</text>
<text x="67" y="2008.8" textLength="78" lengthAdjust="spacingAndGlyphs" style="font-family:'Liberation Serif',serif;font-style:italic;font-size:28px;fill:#fff">năm</text>
<text aria-label="OSCAR WINNERS" y="1974.8" style="font-family:'Liberation Serif',serif;font-size:158px;fill:#000;stroke:#000;stroke-width:1.3"><tspan x="189.7" textLength="48.8" lengthAdjust="spacingAndGlyphs">O</tspan><tspan x="236.6" textLength="49.0" lengthAdjust="spacingAndGlyphs">S</tspan><tspan x="283.6" textLength="49.9" lengthAdjust="spacingAndGlyphs">C</tspan><tspan x="333.7" textLength="57.9" lengthAdjust="spacingAndGlyphs">A</tspan><tspan x="390.0" textLength="48.6" lengthAdjust="spacingAndGlyphs">R</tspan> <tspan x="470.0" textLength="78.2" lengthAdjust="spacingAndGlyphs">W</tspan><tspan x="549.8" textLength="29.9" lengthAdjust="spacingAndGlyphs">I</tspan><tspan x="575.9" textLength="54.3" lengthAdjust="spacingAndGlyphs">N</tspan><tspan x="633.5" textLength="54.2" lengthAdjust="spacingAndGlyphs">N</tspan><tspan x="693.3" textLength="47.0" lengthAdjust="spacingAndGlyphs">E</tspan><tspan x="740.9" textLength="50.0" lengthAdjust="spacingAndGlyphs">R</tspan><tspan x="793.2" textLength="48.9" lengthAdjust="spacingAndGlyphs">S</tspan></text>
<rect x="192" y="1987.0" width="645" height="1.6" fill="#000"/>
<text class="tl" x="171.0" y="2021.3" textLength="668.6" lengthAdjust="spacingAndGlyphs" style="font-size:36.0px;fill:#CDB98A;stroke:#CDB98A;stroke-width:0.3px;text-anchor:start">NHỮNG LOẠI VAI GIÚP DIỄN VIÊN NAM</text>
<text class="tl" x="324.5" y="2062.8" textLength="331.5" lengthAdjust="spacingAndGlyphs" style="font-size:36.2px;fill:#CDB98A;stroke:#CDB98A;stroke-width:0.3px;text-anchor:start">GIÀNH GIẢI OSCAR</text>
<use href="#statue" transform="translate(803.7,1760.1) scale(0.1453)" fill="#CBB684"/>
<line class="sp" x1="136.9" y1="2129.4" x2="271.6" y2="2346.3"/>
<line class="sp" x1="271.6" y1="2126.6" x2="271.6" y2="2346.3"/>
<line class="sp" x1="406.3" y1="2129.4" x2="271.6" y2="2346.3"/>
<line class="sp" x1="212.4" y1="2167.0" x2="271.6" y2="2346.3"/>
<line class="sp" x1="330.8" y1="2167.0" x2="271.6" y2="2346.3"/>
<line class="sp" x1="127.7" y1="2220.1" x2="271.6" y2="2346.3"/>
<line class="sp" x1="415.5" y1="2220.1" x2="271.6" y2="2346.3"/>
<line class="sp" x1="148.6" y1="2289.6" x2="271.6" y2="2346.3"/>
<line class="sp" x1="394.6" y1="2289.6" x2="271.6" y2="2346.3"/>
<line class="sp" x1="78.8" y1="2313.7" x2="271.6" y2="2346.3"/>
<line class="sp" x1="464.5" y1="2313.7" x2="271.6" y2="2346.3"/>
<line class="sp" x1="126.6" y1="2367.6" x2="271.6" y2="2346.3"/>
<line class="sp" x1="416.6" y1="2367.6" x2="271.6" y2="2346.3"/>
<line class="sp" x1="89.4" y1="2431.4" x2="271.6" y2="2346.3"/>
<line class="sp" x1="162.5" y1="2439.2" x2="271.6" y2="2346.3"/>
<line class="sp" x1="380.8" y1="2439.2" x2="271.6" y2="2346.3"/>
<line class="sp" x1="453.8" y1="2431.4" x2="271.6" y2="2346.3"/>
<line class="sp" x1="168.8" y1="2510.8" x2="271.6" y2="2346.3"/>
<line class="sp" x1="374.4" y1="2510.8" x2="271.6" y2="2346.3"/>
<line class="sp" x1="271.6" y1="2544.1" x2="271.6" y2="2346.3"/>
<line class="sp" x1="200.4" y1="2575.0" x2="271.6" y2="2346.3"/>
<line class="sp" x1="342.9" y1="2575.0" x2="271.6" y2="2346.3"/>
<line class="sp" x1="213.5" y1="2717.5" x2="213.5" y2="2821.0"/>
<line class="sp" x1="125.9" y1="2749.4" x2="213.5" y2="2821.0"/>
<line class="sp" x1="301.0" y1="2749.4" x2="213.5" y2="2821.0"/>
<line class="sp" x1="122.0" y1="2841.6" x2="213.5" y2="2821.0"/>
<line class="sp" x1="305.0" y1="2841.6" x2="213.5" y2="2821.0"/>
<line class="sp" x1="170.2" y1="2916.0" x2="213.5" y2="2821.0"/>
<line class="sp" x1="256.7" y1="2916.0" x2="213.5" y2="2821.0"/>
<line class="sp" x1="208.6" y1="3019.9" x2="208.6" y2="3134.7"/>
<line class="sp" x1="133.8" y1="3046.1" x2="208.6" y2="3134.7"/>
<line class="sp" x1="283.4" y1="3046.1" x2="208.6" y2="3134.7"/>
<line class="sp" x1="101.2" y1="3116.3" x2="208.6" y2="3134.7"/>
<line class="sp" x1="316.0" y1="3116.3" x2="208.6" y2="3134.7"/>
<line class="sp" x1="111.4" y1="3190.0" x2="208.6" y2="3134.7"/>
<line class="sp" x1="305.7" y1="3190.0" x2="208.6" y2="3134.7"/>
<line class="sp" x1="169.6" y1="3242.5" x2="208.6" y2="3134.7"/>
<line class="sp" x1="247.6" y1="3242.5" x2="208.6" y2="3134.7"/>
<line class="sp" x1="177.8" y1="3348.9" x2="177.8" y2="3440.4"/>
<line class="sp" x1="93.1" y1="3411.3" x2="177.8" y2="3440.4"/>
<line class="sp" x1="262.5" y1="3411.3" x2="177.8" y2="3440.4"/>
<line class="sp" x1="124.0" y1="3508.4" x2="177.8" y2="3440.4"/>
<line class="sp" x1="231.7" y1="3508.4" x2="177.8" y2="3440.4"/>
<line class="sp" x1="705.2" y1="2098.2" x2="705.2" y2="2192.5"/>
<line class="sp" x1="622.6" y1="2143.6" x2="705.2" y2="2192.5"/>
<line class="sp" x1="787.8" y1="2143.6" x2="705.2" y2="2192.5"/>
<line class="sp" x1="622.6" y1="2237.9" x2="705.2" y2="2192.5"/>
<line class="sp" x1="787.8" y1="2237.9" x2="705.2" y2="2192.5"/>
<line class="sp" x1="705.2" y1="2284.0" x2="705.2" y2="2192.5"/>
<line class="sp" x1="713.1" y1="2396.8" x2="713.1" y2="2578.3"/>
<line class="sp" x1="600.4" y1="2436.7" x2="713.1" y2="2578.3"/>
<line class="sp" x1="670.9" y1="2452.6" x2="713.1" y2="2578.3"/>
<line class="sp" x1="755.3" y1="2452.6" x2="713.1" y2="2578.3"/>
<line class="sp" x1="825.9" y1="2436.7" x2="713.1" y2="2578.3"/>
<line class="sp" x1="612.8" y1="2510.3" x2="713.1" y2="2578.3"/>
<line class="sp" x1="813.4" y1="2510.3" x2="713.1" y2="2578.3"/>
<line class="sp" x1="549.0" y1="2540.4" x2="713.1" y2="2578.3"/>
<line class="sp" x1="877.2" y1="2540.4" x2="713.1" y2="2578.3"/>
<line class="sp" x1="595.1" y1="2594.1" x2="713.1" y2="2578.3"/>
<line class="sp" x1="831.2" y1="2594.1" x2="713.1" y2="2578.3"/>
<line class="sp" x1="561.7" y1="2658.7" x2="713.1" y2="2578.3"/>
<line class="sp" x1="864.5" y1="2658.7" x2="713.1" y2="2578.3"/>
<line class="sp" x1="631.6" y1="2672.1" x2="713.1" y2="2578.3"/>
<line class="sp" x1="794.7" y1="2672.1" x2="713.1" y2="2578.3"/>
<line class="sp" x1="713.1" y1="2704.0" x2="713.1" y2="2578.3"/>
<line class="sp" x1="653.6" y1="2743.0" x2="713.1" y2="2578.3"/>
<line class="sp" x1="772.7" y1="2743.0" x2="713.1" y2="2578.3"/>
<line class="sp" x1="745.6" y1="2872.1" x2="745.6" y2="3039.0"/>
<line class="sp" x1="691.4" y1="2930.4" x2="745.6" y2="3039.0"/>
<line class="sp" x1="799.9" y1="2932.4" x2="745.6" y2="3039.0"/>
<line class="sp" x1="617.0" y1="2949.0" x2="745.6" y2="3039.0"/>
<line class="sp" x1="874.3" y1="2949.0" x2="745.6" y2="3039.0"/>
<line class="sp" x1="626.5" y1="3024.9" x2="745.6" y2="3039.0"/>
<line class="sp" x1="864.8" y1="3024.9" x2="745.6" y2="3039.0"/>
<line class="sp" x1="645.0" y1="3099.7" x2="745.6" y2="3039.0"/>
<line class="sp" x1="846.3" y1="3099.7" x2="745.6" y2="3039.0"/>
<line class="sp" x1="675.8" y1="3168.4" x2="745.6" y2="3039.0"/>
<line class="sp" x1="745.6" y1="3149.6" x2="745.6" y2="3039.0"/>
<line class="sp" x1="815.5" y1="3166.9" x2="745.6" y2="3039.0"/>
<line class="sp" x1="765.5" y1="3281.5" x2="765.5" y2="3385.1"/>
<line class="sp" x1="678.0" y1="3312.0" x2="765.5" y2="3385.1"/>
<line class="sp" x1="853.1" y1="3312.0" x2="765.5" y2="3385.1"/>
<line class="sp" x1="674.1" y1="3402.8" x2="765.5" y2="3385.1"/>
<line class="sp" x1="857.0" y1="3402.8" x2="765.5" y2="3385.1"/>
<line class="sp" x1="722.3" y1="3479.4" x2="765.5" y2="3385.1"/>
<line class="sp" x1="808.8" y1="3479.4" x2="765.5" y2="3385.1"/>
<circle cx="271.6" cy="2346.3" r="77.2" fill="#AE9152"/>
<circle cx="213.5" cy="2821.0" r="44.2" fill="#AE9152"/>
<circle cx="208.6" cy="3134.7" r="49.2" fill="#AE9152"/>
<circle cx="177.8" cy="3440.4" r="35.2" fill="#AE9152"/>
<circle cx="705.2" cy="2192.5" r="41.2" fill="#AE9152"/>
<circle cx="713.1" cy="2578.3" r="69.2" fill="#AE9152"/>
<circle cx="745.6" cy="3039.0" r="57.2" fill="#AE9152"/>
<circle cx="765.5" cy="3385.1" r="43.2" fill="#AE9152"/>
<circle cx="136.9" cy="2129.4" r="34.3" fill="#AE9152"/>
<circle cx="271.6" cy="2126.6" r="34.3" fill="#AE9152"/>
<circle cx="406.3" cy="2129.4" r="34.3" fill="#AE9152"/>
<circle cx="212.4" cy="2167.0" r="34.3" fill="#AE9152"/>
<circle cx="330.8" cy="2167.0" r="34.3" fill="#AE9152"/>
<circle cx="127.7" cy="2220.1" r="34.3" fill="#AE9152"/>
<circle cx="415.5" cy="2220.1" r="34.3" fill="#AE9152"/>
<circle cx="148.6" cy="2289.6" r="34.3" fill="#AE9152"/>
<circle cx="394.6" cy="2289.6" r="34.3" fill="#AE9152"/>
<circle cx="78.8" cy="2313.7" r="34.3" fill="#AE9152"/>
<circle cx="464.5" cy="2313.7" r="34.3" fill="#AE9152"/>
<circle cx="126.6" cy="2367.6" r="34.3" fill="#AE9152"/>
<circle cx="416.6" cy="2367.6" r="34.3" fill="#AE9152"/>
<circle cx="89.4" cy="2431.4" r="34.3" fill="#AE9152"/>
<circle cx="162.5" cy="2439.2" r="34.3" fill="#AE9152"/>
<circle cx="380.8" cy="2439.2" r="34.3" fill="#AE9152"/>
<circle cx="453.8" cy="2431.4" r="34.3" fill="#AE9152"/>
<circle cx="168.8" cy="2510.8" r="34.3" fill="#AE9152"/>
<circle cx="374.4" cy="2510.8" r="34.3" fill="#AE9152"/>
<circle cx="271.6" cy="2544.1" r="34.3" fill="#AE9152"/>
<circle cx="200.4" cy="2575.0" r="34.3" fill="#AE9152"/>
<circle cx="342.9" cy="2575.0" r="34.3" fill="#AE9152"/>
<circle cx="213.5" cy="2717.5" r="34.3" fill="#AE9152"/>
<circle cx="125.9" cy="2749.4" r="34.3" fill="#AE9152"/>
<circle cx="301.0" cy="2749.4" r="34.3" fill="#AE9152"/>
<circle cx="122.0" cy="2841.6" r="34.3" fill="#AE9152"/>
<circle cx="305.0" cy="2841.6" r="34.3" fill="#AE9152"/>
<circle cx="170.2" cy="2916.0" r="34.3" fill="#AE9152"/>
<circle cx="256.7" cy="2916.0" r="34.3" fill="#AE9152"/>
<circle cx="208.6" cy="3019.9" r="34.3" fill="#AE9152"/>
<circle cx="133.8" cy="3046.1" r="34.3" fill="#AE9152"/>
<circle cx="283.4" cy="3046.1" r="34.3" fill="#AE9152"/>
<circle cx="101.2" cy="3116.3" r="34.3" fill="#AE9152"/>
<circle cx="316.0" cy="3116.3" r="34.3" fill="#AE9152"/>
<circle cx="111.4" cy="3190.0" r="34.3" fill="#AE9152"/>
<circle cx="305.7" cy="3190.0" r="34.3" fill="#AE9152"/>
<circle cx="169.6" cy="3242.5" r="34.3" fill="#AE9152"/>
<circle cx="247.6" cy="3242.5" r="34.3" fill="#AE9152"/>
<circle cx="177.8" cy="3348.9" r="34.3" fill="#AE9152"/>
<circle cx="93.1" cy="3411.3" r="34.3" fill="#AE9152"/>
<circle cx="262.5" cy="3411.3" r="34.3" fill="#AE9152"/>
<circle cx="124.0" cy="3508.4" r="34.3" fill="#AE9152"/>
<circle cx="231.7" cy="3508.4" r="34.3" fill="#AE9152"/>
<circle cx="705.2" cy="2098.2" r="34.3" fill="#AE9152"/>
<circle cx="622.6" cy="2143.6" r="34.3" fill="#AE9152"/>
<circle cx="787.8" cy="2143.6" r="34.3" fill="#AE9152"/>
<circle cx="622.6" cy="2237.9" r="34.3" fill="#AE9152"/>
<circle cx="787.8" cy="2237.9" r="34.3" fill="#AE9152"/>
<circle cx="705.2" cy="2284.0" r="34.3" fill="#AE9152"/>
<circle cx="713.1" cy="2396.8" r="34.3" fill="#AE9152"/>
<circle cx="600.4" cy="2436.7" r="34.3" fill="#AE9152"/>
<circle cx="670.9" cy="2452.6" r="34.3" fill="#AE9152"/>
<circle cx="755.3" cy="2452.6" r="34.3" fill="#AE9152"/>
<circle cx="825.9" cy="2436.7" r="34.3" fill="#AE9152"/>
<circle cx="612.8" cy="2510.3" r="34.3" fill="#AE9152"/>
<circle cx="813.4" cy="2510.3" r="34.3" fill="#AE9152"/>
<circle cx="549.0" cy="2540.4" r="34.3" fill="#AE9152"/>
<circle cx="877.2" cy="2540.4" r="34.3" fill="#AE9152"/>
<circle cx="595.1" cy="2594.1" r="34.3" fill="#AE9152"/>
<circle cx="831.2" cy="2594.1" r="34.3" fill="#AE9152"/>
<circle cx="561.7" cy="2658.7" r="34.3" fill="#AE9152"/>
<circle cx="864.5" cy="2658.7" r="34.3" fill="#AE9152"/>
<circle cx="631.6" cy="2672.1" r="34.3" fill="#AE9152"/>
<circle cx="794.7" cy="2672.1" r="34.3" fill="#AE9152"/>
<circle cx="713.1" cy="2704.0" r="34.3" fill="#AE9152"/>
<circle cx="653.6" cy="2743.0" r="34.3" fill="#AE9152"/>
<circle cx="772.7" cy="2743.0" r="34.3" fill="#AE9152"/>
<circle cx="745.6" cy="2872.1" r="34.3" fill="#AE9152"/>
<circle cx="691.4" cy="2930.4" r="34.3" fill="#AE9152"/>
<circle cx="799.9" cy="2932.4" r="34.3" fill="#AE9152"/>
<circle cx="617.0" cy="2949.0" r="34.3" fill="#AE9152"/>
<circle cx="874.3" cy="2949.0" r="34.3" fill="#AE9152"/>
<circle cx="626.5" cy="3024.9" r="34.3" fill="#AE9152"/>
<circle cx="864.8" cy="3024.9" r="34.3" fill="#AE9152"/>
<circle cx="645.0" cy="3099.7" r="34.3" fill="#AE9152"/>
<circle cx="846.3" cy="3099.7" r="34.3" fill="#AE9152"/>
<circle cx="675.8" cy="3168.4" r="34.3" fill="#AE9152"/>
<circle cx="745.6" cy="3149.6" r="34.3" fill="#AE9152"/>
<circle cx="815.5" cy="3166.9" r="34.3" fill="#AE9152"/>
<circle cx="765.5" cy="3281.5" r="34.3" fill="#AE9152"/>
<circle cx="678.0" cy="3312.0" r="34.3" fill="#AE9152"/>
<circle cx="853.1" cy="3312.0" r="34.3" fill="#AE9152"/>
<circle cx="674.1" cy="3402.8" r="34.3" fill="#AE9152"/>
<circle cx="857.0" cy="3402.8" r="34.3" fill="#AE9152"/>
<circle cx="722.3" cy="3479.4" r="34.3" fill="#AE9152"/>
<circle cx="808.8" cy="3479.4" r="34.3" fill="#AE9152"/>
<polyline class="cn" stroke-width="2.0" points="271.6,2346.3 423.3,2719.0"/>
<polyline class="cn" stroke-width="2.0" points="705.2,2192.5 474.0,2560.8 474.0,2576.0"/>
<polyline class="cn" stroke-width="2.0" points="701.0,2577.0 532.4,2987.0"/>
<polyline class="cn" stroke-width="2.0" points="213.5,2821.0 374.7,2960.0 374.7,3203.0 427.0,3203.0"/>
<polyline class="cn" stroke-width="2.0" points="208.6,3134.7 321.2,3264.5 321.2,3438.5 342.0,3438.5"/>
<polyline class="cn" stroke-width="2.0" points="177.8,3440.4 177.9,3597.8 290.7,3597.8"/>
<polyline class="cn" stroke-width="2.0" points="737.3,3039.0 500.0,3334.0"/>
<polyline class="cn" stroke-width="2.0" points="765.5,3385.1 600.0,3534.0"/>
<g clip-path="url(#pc2)"><use href="#statue2" transform="translate(0,1820)" fill="#fff"/></g>
<g clip-path="url(#sc2)">
<rect x="250" y="2646.1" width="450" height="2.6" fill="#AE9152"/>
<rect x="250" y="2919.4" width="450" height="2.6" fill="#AE9152"/>
<rect x="250" y="3143.2" width="450" height="2.6" fill="#AE9152"/>
<rect x="250" y="3231.0" width="450" height="2.6" fill="#AE9152"/>
<rect x="250" y="3380.7" width="450" height="2.6" fill="#AE9152"/>
<rect x="250" y="3492.7" width="450" height="2.6" fill="#AE9152"/>
<rect x="250" y="3579.7" width="450" height="2.6" fill="#AE9152"/>
</g>
<circle cx="271.6" cy="2346.3" r="75" fill="#000"/>
<circle cx="213.5" cy="2821.0" r="42" fill="#000"/>
<circle cx="208.6" cy="3134.7" r="47" fill="#000"/>
<circle cx="177.8" cy="3440.4" r="33" fill="#000"/>
<circle cx="705.2" cy="2192.5" r="39" fill="#000"/>
<circle cx="713.1" cy="2578.3" r="67" fill="#000"/>
<circle cx="745.6" cy="3039.0" r="55" fill="#000"/>
<circle cx="765.5" cy="3385.1" r="41" fill="#000"/>
<circle cx="136.9" cy="2129.4" r="33.3" fill="#fff"/>
<text class="yr" x="136.9" y="2120.1">2010</text>
<text class="nm" x="136.9" y="2133.5">Colin</text>
<text class="nm" x="136.9" y="2146.9">Firth</text>
<circle cx="271.6" cy="2126.6" r="33.3" fill="#fff"/>
<text class="yr" x="271.6" y="2117.3">1929/28</text>
<text class="nm" x="271.6" y="2130.7">Warner</text>
<text class="nm" x="271.6" y="2144.1">Baxter</text>
<circle cx="406.3" cy="2129.4" r="33.3" fill="#fff"/>
<text class="yr" x="406.3" y="2120.1">1933/32</text>
<text class="nm" x="406.3" y="2133.5">Charles</text>
<text class="nm" x="406.3" y="2146.9">Laughton</text>
<circle cx="212.4" cy="2167.0" r="33.3" fill="#fff"/>
<text class="yr" x="212.4" y="2157.7">2012</text>
<text class="nm" x="212.4" y="2171.1">Daniel</text>
<text class="nm" x="212.4" y="2184.5">Day-Lewis</text>
<circle cx="330.8" cy="2167.0" r="33.3" fill="#fff"/>
<text class="yr" x="330.8" y="2157.7">1930/29</text>
<text class="nm" x="330.8" y="2171.1">George</text>
<text class="nm" x="330.8" y="2184.5">Arliss</text>
<circle cx="127.7" cy="2220.1" r="33.3" fill="#fff"/>
<text class="yr" x="127.7" y="2216.8">2008</text>
<text class="nm" x="127.7" y="2230.1">Sean Penn</text>
<circle cx="415.5" cy="2220.1" r="33.3" fill="#fff"/>
<text class="yr" x="415.5" y="2210.8">1936</text>
<text class="nm" x="415.5" y="2224.2">Paul</text>
<text class="nm" x="415.5" y="2237.6">Muni</text>
<circle cx="148.6" cy="2289.6" r="33.3" fill="#fff"/>
<text class="yr" x="148.6" y="2280.3">2006</text>
<text class="nm" x="148.6" y="2293.7">Forest</text>
<text class="nm" x="148.6" y="2307.1">Whitaker</text>
<circle cx="394.6" cy="2289.6" r="33.3" fill="#fff"/>
<text class="yr" x="394.6" y="2280.3">1941</text>
<text class="nm" x="394.6" y="2293.7">Gary</text>
<text class="nm" x="394.6" y="2307.1">Cooper</text>
<circle cx="78.8" cy="2313.7" r="33.3" fill="#fff"/>
<text class="yr" x="78.8" y="2296.1">2005</text>
<text class="nm" x="78.8" y="2309.1">Philip</text>
<text class="nm" x="78.8" y="2322.1">Seymour</text>
<text class="nm" x="78.8" y="2335.1">Hoffman</text>
<circle cx="464.5" cy="2313.7" r="33.3" fill="#fff"/>
<text class="yr" x="464.5" y="2304.4">1942</text>
<text class="nm" x="464.5" y="2317.8">James</text>
<text class="nm" x="464.5" y="2331.2">Cagney</text>
<circle cx="126.6" cy="2367.6" r="33.3" fill="#fff"/>
<text class="yr" x="126.6" y="2358.3">2004</text>
<text class="nm" x="126.6" y="2371.7">Jamie</text>
<text class="nm" x="126.6" y="2385.1">Foxx</text>
<circle cx="416.6" cy="2367.6" r="33.3" fill="#fff"/>
<text class="yr" x="416.6" y="2358.3">1956</text>
<text class="nm" x="416.6" y="2371.7">Yul</text>
<text class="nm" x="416.6" y="2385.1">Brynner</text>
<circle cx="89.4" cy="2431.4" r="33.3" fill="#fff"/>
<text class="yr" x="89.4" y="2422.1">2002</text>
<text class="nm" x="89.4" y="2435.5">Adrien</text>
<text class="nm" x="89.4" y="2448.9">Brody</text>
<circle cx="162.5" cy="2439.2" r="33.3" fill="#fff"/>
<text class="yr" x="162.5" y="2429.9">1996</text>
<text class="nm" x="162.5" y="2443.3">Geoffrey</text>
<text class="nm" x="162.5" y="2456.7">Rush</text>
<circle cx="380.8" cy="2439.2" r="33.3" fill="#fff"/>
<text class="yr" x="380.8" y="2429.9">1970</text>
<text class="nm" x="380.8" y="2443.3">George</text>
<text class="nm" x="380.8" y="2456.7">C. Scott</text>
<circle cx="453.8" cy="2431.4" r="33.3" fill="#fff"/>
<text class="yr" x="453.8" y="2422.1">1966</text>
<text class="nm" x="453.8" y="2435.5">Paul</text>
<text class="nm" x="453.8" y="2448.9">Scofield</text>
<circle cx="168.8" cy="2510.8" r="33.3" fill="#fff"/>
<text class="yr" x="168.8" y="2501.5">1990</text>
<text class="nm" x="168.8" y="2514.9">Jeremy</text>
<text class="nm" x="168.8" y="2528.3">Irons</text>
<circle cx="374.4" cy="2510.8" r="33.3" fill="#fff"/>
<text class="yr" x="374.4" y="2501.5">1980</text>
<text class="nm" x="374.4" y="2514.9">Robert</text>
<text class="nm" x="374.4" y="2528.3">De Niro</text>
<circle cx="271.6" cy="2544.1" r="33.3" fill="#fff"/>
<text class="yr" x="271.6" y="2534.8">1984</text>
<text class="nm" x="271.6" y="2548.2">F. Murray</text>
<text class="nm" x="271.6" y="2561.6">Abraham</text>
<circle cx="200.4" cy="2575.0" r="33.3" fill="#fff"/>
<text class="yr" x="200.4" y="2565.7">1989</text>
<text class="nm" x="200.4" y="2579.1">Daniel</text>
<text class="nm" x="200.4" y="2592.5">Day-Lewis</text>
<circle cx="342.9" cy="2575.0" r="33.3" fill="#fff"/>
<text class="yr" x="342.9" y="2565.7">1982</text>
<text class="nm" x="342.9" y="2579.1">Ben</text>
<text class="nm" x="342.9" y="2592.5">Kingsley</text>
<circle cx="213.5" cy="2717.5" r="33.3" fill="#fff"/>
<text class="yr" x="213.5" y="2708.2">1943</text>
<text class="nm" x="213.5" y="2721.6">Paul</text>
<text class="nm" x="213.5" y="2735.0">Lukas</text>
<circle cx="125.9" cy="2749.4" r="33.3" fill="#fff"/>
<text class="yr" x="125.9" y="2740.1">2000</text>
<text class="nm" x="125.9" y="2753.5">Russell</text>
<text class="nm" x="125.9" y="2766.9">Crowe</text>
<circle cx="301.0" cy="2749.4" r="33.3" fill="#fff"/>
<text class="yr" x="301.0" y="2740.1">1948</text>
<text class="nm" x="301.0" y="2753.5">Laurence</text>
<text class="nm" x="301.0" y="2766.9">Olivier</text>
<circle cx="122.0" cy="2841.6" r="33.3" fill="#fff"/>
<text class="yr" x="122.0" y="2832.3">1998</text>
<text class="nm" x="122.0" y="2845.7">Roberto</text>
<text class="nm" x="122.0" y="2859.1">Benigni</text>
<circle cx="305.0" cy="2841.6" r="33.3" fill="#fff"/>
<text class="yr" x="305.0" y="2832.3">1949</text>
<text class="nm" x="305.0" y="2845.7">Broderick</text>
<text class="nm" x="305.0" y="2859.1">Crawford</text>
<circle cx="170.2" cy="2916.0" r="33.3" fill="#fff"/>
<text class="yr" x="170.2" y="2906.7">1959</text>
<text class="nm" x="170.2" y="2920.1">Charlton</text>
<text class="nm" x="170.2" y="2933.5">Heston</text>
<circle cx="256.7" cy="2916.0" r="33.3" fill="#fff"/>
<text class="yr" x="256.7" y="2906.7">1950</text>
<text class="nm" x="256.7" y="2920.1">Jose</text>
<text class="nm" x="256.7" y="2933.5">Ferrer</text>
<circle cx="208.6" cy="3019.9" r="33.3" fill="#fff"/>
<text class="yr" x="208.6" y="3010.6">1935</text>
<text class="nm" x="208.6" y="3024.0">Victor</text>
<text class="nm" x="208.6" y="3037.4">McLaglen</text>
<circle cx="133.8" cy="3046.1" r="33.3" fill="#fff"/>
<text class="yr" x="133.8" y="3036.8">1971</text>
<text class="nm" x="133.8" y="3050.2">Gene</text>
<text class="nm" x="133.8" y="3063.6">Hackman</text>
<circle cx="283.4" cy="3046.1" r="33.3" fill="#fff"/>
<text class="yr" x="283.4" y="3036.8">1946</text>
<text class="nm" x="283.4" y="3050.2">Fredric</text>
<text class="nm" x="283.4" y="3063.6">March</text>
<circle cx="101.2" cy="3116.3" r="33.3" fill="#fff"/>
<text class="yr" x="101.2" y="3107.0">1967</text>
<text class="nm" x="101.2" y="3120.4">Rod</text>
<text class="nm" x="101.2" y="3133.8">Steiger</text>
<circle cx="316.0" cy="3116.3" r="33.3" fill="#fff"/>
<text class="yr" x="316.0" y="3107.0">1952</text>
<text class="nm" x="316.0" y="3120.4">Gary</text>
<text class="nm" x="316.0" y="3133.8">Cooper</text>
<circle cx="111.4" cy="3190.0" r="33.3" fill="#fff"/>
<text class="yr" x="111.4" y="3180.7">1961</text>
<text class="nm" x="111.4" y="3194.1">Maximillian</text>
<text class="nm" x="111.4" y="3207.5">Schell</text>
<circle cx="305.7" cy="3190.0" r="33.3" fill="#fff"/>
<text class="yr" x="305.7" y="3180.7">1953</text>
<text class="nm" x="305.7" y="3194.1">William</text>
<text class="nm" x="305.7" y="3207.5">Holden</text>
<circle cx="169.6" cy="3242.5" r="33.3" fill="#fff"/>
<text class="yr" x="169.6" y="3233.2">1958</text>
<text class="nm" x="169.6" y="3246.6">David</text>
<text class="nm" x="169.6" y="3260.0">Niven</text>
<circle cx="247.6" cy="3242.5" r="33.3" fill="#fff"/>
<text class="yr" x="247.6" y="3233.2">1957</text>
<text class="nm" x="247.6" y="3246.6">Alec</text>
<text class="nm" x="247.6" y="3260.0">Guinness</text>
<circle cx="177.8" cy="3348.9" r="33.3" fill="#fff"/>
<text class="yr" x="177.8" y="3339.6">1969</text>
<text class="nm" x="177.8" y="3353.0">John</text>
<text class="nm" x="177.8" y="3366.4">Wayne</text>
<circle cx="93.1" cy="3411.3" r="33.3" fill="#fff"/>
<text class="yr" x="93.1" y="3402.0">1986</text>
<text class="nm" x="93.1" y="3415.4">Paul</text>
<text class="nm" x="93.1" y="3428.8">Newman</text>
<circle cx="262.5" cy="3411.3" r="33.3" fill="#fff"/>
<text class="yr" x="262.5" y="3402.0">1973</text>
<text class="nm" x="262.5" y="3415.4">Jack</text>
<text class="nm" x="262.5" y="3428.8">Lemon</text>
<circle cx="124.0" cy="3508.4" r="33.3" fill="#fff"/>
<text class="yr" x="124.0" y="3499.1">1981</text>
<text class="nm" x="124.0" y="3512.5">Henry</text>
<text class="nm" x="124.0" y="3525.9">Fonda</text>
<circle cx="231.7" cy="3508.4" r="33.3" fill="#fff"/>
<text class="yr" x="231.7" y="3499.1">1974</text>
<text class="nm" x="231.7" y="3512.5">Art</text>
<text class="nm" x="231.7" y="3525.9">Carney</text>
<circle cx="705.2" cy="2098.2" r="33.3" fill="#fff"/>
<text class="yr" x="705.2" y="2088.9">1947</text>
<text class="nm" x="705.2" y="2102.3">Ronald</text>
<text class="nm" x="705.2" y="2115.7">Colman</text>
<circle cx="622.6" cy="2143.6" r="33.3" fill="#fff"/>
<text class="yr" x="622.6" y="2134.3">2011</text>
<text class="nm" x="622.6" y="2147.7">Jean</text>
<text class="nm" x="622.6" y="2161.1">Dujardin</text>
<circle cx="787.8" cy="2143.6" r="33.3" fill="#fff"/>
<text class="yr" x="787.8" y="2134.3">1977</text>
<text class="nm" x="787.8" y="2147.7">Richard</text>
<text class="nm" x="787.8" y="2161.1">Dreyfuss</text>
<circle cx="622.6" cy="2237.9" r="33.3" fill="#fff"/>
<text class="yr" x="622.6" y="2228.6">2009</text>
<text class="nm" x="622.6" y="2242.0">Jeff</text>
<text class="nm" x="622.6" y="2255.4">Bridges</text>
<circle cx="787.8" cy="2237.9" r="33.3" fill="#fff"/>
<text class="yr" x="787.8" y="2228.6">1983</text>
<text class="nm" x="787.8" y="2242.0">Robert</text>
<text class="nm" x="787.8" y="2255.4">Duvall</text>
<circle cx="705.2" cy="2284.0" r="33.3" fill="#fff"/>
<text class="yr" x="705.2" y="2273.2">1997</text>
<text class="nm" x="705.2" y="2286.6">Jack</text>
<text class="nm" x="705.2" y="2300.0">Nicholson</text>
<circle cx="713.1" cy="2396.8" r="33.3" fill="#fff"/>
<text class="yr" x="713.1" y="2387.5">1928/27</text>
<text class="nm" x="713.1" y="2400.9">E. Jannings/</text>
<text class="nm" x="713.1" y="2414.3">A. Shilling</text>
<circle cx="600.4" cy="2436.7" r="33.3" fill="#fff"/>
<text class="yr" x="600.4" y="2427.4">1985</text>
<text class="nm" x="600.4" y="2440.8">William</text>
<text class="nm" x="600.4" y="2454.2">Hurt</text>
<circle cx="670.9" cy="2452.6" r="33.3" fill="#fff"/>
<text class="yr" x="670.9" y="2443.3">1999</text>
<text class="nm" x="670.9" y="2456.7">Kevin</text>
<text class="nm" x="670.9" y="2470.1">Spacey</text>
<circle cx="755.3" cy="2452.6" r="33.3" fill="#fff"/>
<text class="yr" x="755.3" y="2443.3">1932/31</text>
<text class="nm" x="755.3" y="2456.7">Fredric</text>
<text class="nm" x="755.3" y="2470.1">March</text>
<circle cx="825.9" cy="2436.7" r="33.3" fill="#fff"/>
<text class="yr" x="825.9" y="2427.4">1934</text>
<text class="nm" x="825.9" y="2440.8">Clark</text>
<text class="nm" x="825.9" y="2454.2">Gable</text>
<circle cx="612.8" cy="2510.3" r="33.3" fill="#fff"/>
<text class="yr" x="612.8" y="2501.0">1979</text>
<text class="nm" x="612.8" y="2514.4">Dustin</text>
<text class="nm" x="612.8" y="2527.8">Hoffman</text>
<circle cx="813.4" cy="2510.3" r="33.3" fill="#fff"/>
<text class="yr" x="813.4" y="2501.0">1937</text>
<text class="nm" x="813.4" y="2514.4">Spencer</text>
<text class="nm" x="813.4" y="2527.8">Tracy</text>
<circle cx="549.0" cy="2540.4" r="33.3" fill="#fff"/>
<text class="yr" x="549.0" y="2531.1">1976</text>
<text class="nm" x="549.0" y="2544.5">Peter</text>
<text class="nm" x="549.0" y="2557.9">Finch</text>
<circle cx="877.2" cy="2540.4" r="33.3" fill="#fff"/>
<text class="yr" x="877.2" y="2531.1">1938</text>
<text class="nm" x="877.2" y="2544.5">Spencer</text>
<text class="nm" x="877.2" y="2557.9">Tracy</text>
<circle cx="595.1" cy="2594.1" r="33.3" fill="#fff"/>
<text class="yr" x="595.1" y="2584.8">1964</text>
<text class="nm" x="595.1" y="2598.2">Rex</text>
<text class="nm" x="595.1" y="2611.6">Harrison</text>
<circle cx="831.2" cy="2594.1" r="33.3" fill="#fff"/>
<text class="yr" x="831.2" y="2584.8">1939</text>
<text class="nm" x="831.2" y="2598.2">Robert</text>
<text class="nm" x="831.2" y="2611.6">Donat</text>
<circle cx="561.7" cy="2658.7" r="33.3" fill="#fff"/>
<text class="yr" x="561.7" y="2649.4">1963</text>
<text class="nm" x="561.7" y="2662.8">Sidney</text>
<text class="nm" x="561.7" y="2676.2">Poitier</text>
<circle cx="864.5" cy="2658.7" r="33.3" fill="#fff"/>
<text class="yr" x="864.5" y="2649.4">1940</text>
<text class="nm" x="864.5" y="2662.8">James</text>
<text class="nm" x="864.5" y="2676.2">Stewart</text>
<circle cx="631.6" cy="2672.1" r="33.3" fill="#fff"/>
<text class="yr" x="631.6" y="2662.8">1962</text>
<text class="nm" x="631.6" y="2676.2">Gregory</text>
<text class="nm" x="631.6" y="2689.6">Peck</text>
<circle cx="794.7" cy="2672.1" r="33.3" fill="#fff"/>
<text class="yr" x="794.7" y="2662.8">1944</text>
<text class="nm" x="794.7" y="2676.2">Bing</text>
<text class="nm" x="794.7" y="2689.6">Crosby</text>
<circle cx="713.1" cy="2704.0" r="33.3" fill="#fff"/>
<text class="yr" x="713.1" y="2694.7">1954</text>
<text class="nm" x="713.1" y="2708.1">Marlon</text>
<text class="nm" x="713.1" y="2721.5">Brando</text>
<circle cx="653.6" cy="2743.0" r="33.3" fill="#fff"/>
<text class="yr" x="653.6" y="2733.7">1955</text>
<text class="nm" x="653.6" y="2747.1">Ernest</text>
<text class="nm" x="653.6" y="2760.5">Borgnine</text>
<circle cx="772.7" cy="2743.0" r="33.3" fill="#fff"/>
<text class="yr" x="772.7" y="2733.7">1951</text>
<text class="nm" x="772.7" y="2747.1">Humphrey</text>
<text class="nm" x="772.7" y="2760.5">Bogart</text>
<circle cx="745.6" cy="2872.1" r="33.3" fill="#fff"/>
<text class="yr" x="745.6" y="2862.8">1930/31</text>
<text class="nm" x="745.6" y="2876.2">Lionel</text>
<text class="nm" x="745.6" y="2889.6">Barrymore</text>
<circle cx="691.4" cy="2930.4" r="33.3" fill="#fff"/>
<text class="yr" x="691.4" y="2921.1">1995</text>
<text class="nm" x="691.4" y="2934.5">Nicolas</text>
<text class="nm" x="691.4" y="2947.9">Cage</text>
<circle cx="799.9" cy="2932.4" r="33.3" fill="#fff"/>
<text class="yr" x="799.9" y="2923.1">1931/32</text>
<text class="nm" x="799.9" y="2936.5">Wallace</text>
<text class="nm" x="799.9" y="2949.9">Beery</text>
<circle cx="617.0" cy="2949.0" r="33.3" fill="#fff"/>
<text class="yr" x="617.0" y="2939.7">1994</text>
<text class="nm" x="617.0" y="2953.1">Tom</text>
<text class="nm" x="617.0" y="2966.5">Hanks</text>
<circle cx="874.3" cy="2949.0" r="33.3" fill="#fff"/>
<text class="yr" x="874.3" y="2939.7">1945</text>
<text class="nm" x="874.3" y="2953.1">Ray</text>
<text class="nm" x="874.3" y="2966.5">Milland</text>
<circle cx="626.5" cy="3024.9" r="33.3" fill="#fff"/>
<text class="yr" x="626.5" y="3015.6">1993</text>
<text class="nm" x="626.5" y="3029.0">Tom</text>
<text class="nm" x="626.5" y="3042.4">Hanks</text>
<circle cx="864.8" cy="3024.9" r="33.3" fill="#fff"/>
<text class="yr" x="864.8" y="3015.6">1960</text>
<text class="nm" x="864.8" y="3029.0">Burt</text>
<text class="nm" x="864.8" y="3042.4">Lancaster</text>
<circle cx="645.0" cy="3099.7" r="33.3" fill="#fff"/>
<text class="yr" x="645.0" y="3096.3">1992</text>
<text class="nm" x="645.0" y="3109.7">Al Pacino</text>
<circle cx="846.3" cy="3099.7" r="33.3" fill="#fff"/>
<text class="yr" x="846.3" y="3088.8">1968</text>
<text class="nm" x="846.3" y="3102.2">Cliff</text>
<text class="nm" x="846.3" y="3115.7">Robertson</text>
<circle cx="675.8" cy="3168.4" r="33.3" fill="#fff"/>
<text class="yr" x="675.8" y="3159.1">1988</text>
<text class="nm" x="675.8" y="3172.5">Dustin</text>
<text class="nm" x="675.8" y="3185.9">Hoffman</text>
<circle cx="745.6" cy="3149.6" r="33.3" fill="#fff"/>
<text class="yr" x="745.6" y="3140.3">1978</text>
<text class="nm" x="745.6" y="3153.7">Jon</text>
<text class="nm" x="745.6" y="3167.1">Voight</text>
<circle cx="815.5" cy="3166.9" r="33.3" fill="#fff"/>
<text class="yr" x="815.5" y="3157.6">1975</text>
<text class="nm" x="815.5" y="3171.0">Jack</text>
<text class="nm" x="815.5" y="3184.4">Nicholson</text>
<circle cx="765.5" cy="3281.5" r="33.3" fill="#fff"/>
<text class="yr" x="765.5" y="3272.2">1965</text>
<text class="nm" x="765.5" y="3285.6">Lee</text>
<text class="nm" x="765.5" y="3299.0">Marvin</text>
<circle cx="678.0" cy="3312.0" r="33.3" fill="#fff"/>
<text class="yr" x="678.0" y="3302.7">2007</text>
<text class="nm" x="678.0" y="3316.1">Daniel</text>
<text class="nm" x="678.0" y="3329.5">Day-Lewis</text>
<circle cx="853.1" cy="3312.0" r="33.3" fill="#fff"/>
<text class="yr" x="853.1" y="3302.7">1972</text>
<text class="nm" x="853.1" y="3316.1">Marlon</text>
<text class="nm" x="853.1" y="3329.5">Brando</text>
<circle cx="674.1" cy="3402.8" r="33.3" fill="#fff"/>
<text class="yr" x="674.1" y="3399.5">2003</text>
<text class="nm" x="674.1" y="3412.8">Sean Penn</text>
<circle cx="857.0" cy="3402.8" r="33.3" fill="#fff"/>
<text class="yr" x="857.0" y="3393.5">1987</text>
<text class="nm" x="857.0" y="3406.9">Michael</text>
<text class="nm" x="857.0" y="3420.3">Douglas</text>
<circle cx="722.3" cy="3479.4" r="33.3" fill="#fff"/>
<text class="yr" x="722.3" y="3465.6">2001</text>
<text class="nm" x="722.3" y="3479.0">Denzel</text>
<text class="nm" x="722.3" y="3492.4">Washington</text>
<circle cx="808.8" cy="3479.4" r="33.3" fill="#fff"/>
<text class="yr" x="808.8" y="3470.1">1991</text>
<text class="nm" x="808.8" y="3483.5">Anthony</text>
<text class="nm" x="808.8" y="3496.9">Hopkins</text>
<text class="hl" x="272" y="2341" style="font-size:18px;fill:#fff;stroke:#fff">NHÂN VẬT</text>
<text class="hl" x="272" y="2363" style="font-size:18px;fill:#fff;stroke:#fff">CÓ THẬT</text>
<text class="hl" x="117" y="2659" style="font-size:18px;fill:#DCD0AE;stroke:none">NHÂN VẬT HƯ CẤU</text>
<text class="hl" x="117" y="2680" style="font-size:18px;fill:#DCD0AE;stroke:none">TRONG MỘT SỰ KIỆN</text>
<text class="hl" x="137" y="2701" style="font-size:18px;fill:#DCD0AE;stroke:none">LỊCH SỬ</text>
<text class="hl" x="208" y="3130" style="font-size:18px;fill:#fff;stroke:#fff">LUẬT,</text>
<text class="hl" x="208" y="3152" style="font-size:18px;fill:#fff;stroke:#fff">QUÂN ĐỘI</text>
<text class="hl" x="178" y="3436" style="font-size:18px;fill:#fff;stroke:#fff">NGƯỜI</text>
<text class="hl" x="178" y="3457" style="font-size:18px;fill:#fff;stroke:#fff">CAO TUỔI</text>
<text class="hl" x="800" y="2294" style="font-size:18px;fill:#DCD0AE;stroke:none">NGHỆ SĨ</text>
<text class="hl" x="800" y="2315" style="font-size:18px;fill:#DCD0AE;stroke:none">HƯ CẤU</text>
<text class="hl" x="713" y="2584" style="font-size:19px;fill:#fff;stroke:#fff">KHÁC</text>
<text class="hl" x="744" y="3024" style="font-size:18px;fill:#fff;stroke:#fff">NGƯỜI BỊ BỆNH,</text>
<text class="hl" x="744" y="3046" style="font-size:18px;fill:#fff;stroke:#fff">TÀN TẬT,</text>
<text class="hl" x="744" y="3068" style="font-size:18px;fill:#fff;stroke:#fff">VÔ THỪA NHẬN</text>
<text class="hl" x="766" y="3392" style="font-size:19px;fill:#fff;stroke:#fff">KẺ ÁC</text>
<text class="pc" transform="translate(473,2627) scale(0.68,1)" style="font-size:27px;stroke-width:1.2">7%</text>
<text class="tl" x="470" y="2792" style="font-size:18px">NHÂN VẬT</text>
<text class="tl" x="470" y="2813" style="font-size:18px">CÓ THẬT</text>
<text class="pc" transform="translate(472,2839) scale(0.68,1)" style="font-size:27px;stroke-width:1.2">25.6%</text>
<text class="tl" x="471" y="3038" style="font-size:18px">KHÁC</text>
<text class="pc" transform="translate(472,3065) scale(0.68,1)" style="font-size:27px;stroke-width:1.2">20.9%</text>
<text class="tl" x="496" y="3169" style="font-size:18px">NHÂN VẬT HƯ CẤU TRONG</text>
<text class="tl" x="493" y="3192" style="font-size:18px">MỘT SỰ KIỆN LỊCH SỬ</text>
<text class="pc" transform="translate(472,3222) scale(0.68,1)" style="font-size:27px;stroke-width:1.2">8.1%</text>
<text class="tl" x="476" y="3270" style="font-size:18px">NGƯỜI BỊ BỆNH, TÀN TẬT,</text>
<text class="tl" x="473" y="3293" style="font-size:18px">VÔ THỪA NHẬN</text>
<text class="pc" transform="translate(472,3319) scale(0.68,1)" style="font-size:27px;stroke-width:1.2">14%</text>
<text class="tl" x="470" y="3426" style="font-size:18px">LUẬT, QUÂN ĐỘI</text>
<text class="pc" transform="translate(472,3455) scale(0.68,1)" style="font-size:27px;stroke-width:1.2">10.5%</text>
<text class="tl" x="470" y="3525" style="font-size:18px">KẺ ÁC</text>
<text class="pc" transform="translate(472,3557) scale(0.68,1)" style="font-size:27px;stroke-width:1.2">8.1%</text>
<text class="pc" transform="translate(472,3612) scale(0.68,1)" style="font-size:27px;stroke-width:1.2">5.8%</text>
<text class="ft" x="743" y="3602.7" textLength="168" lengthAdjust="spacingAndGlyphs">THE HUFFINGTON POST</text>
</g>
</svg></body></html>
